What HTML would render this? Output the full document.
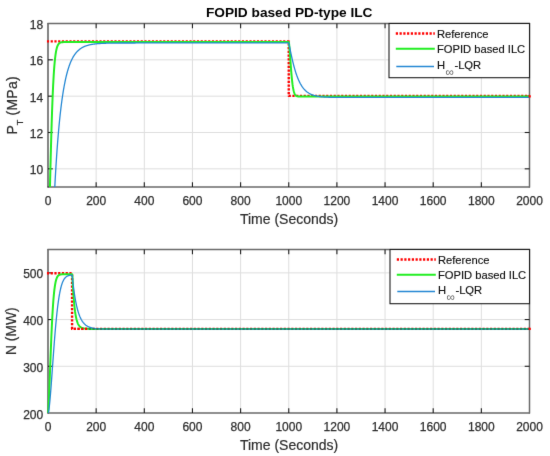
<!DOCTYPE html>
<html><head><meta charset="utf-8"><style>
html,body{margin:0;padding:0;background:#fff;}
body{width:550px;height:456px;overflow:hidden;}
svg{display:block;}
#wrap{width:550px;height:456px;}
text{font-family:"Liberation Sans",sans-serif;fill:#2e2e2e;}
.tk{font-size:12px;stroke:#2e2e2e;stroke-width:0.25px;}
.lb{font-size:14px;stroke:#2e2e2e;stroke-width:0.2px;}
.yl{font-size:13.8px;stroke:#2e2e2e;stroke-width:0.2px;}
.tt{font-size:13.7px;font-weight:bold;fill:#000;}
.lg{font-size:11.2px;fill:#111;stroke:#111;stroke-width:0.15px;}
</style></head><body>
<div id="wrap">
<svg width="550" height="456" viewBox="0 0 550 456">
<defs>
<filter id="soft" x="0" y="0" width="550" height="456" filterUnits="userSpaceOnUse" color-interpolation-filters="sRGB"><feConvolveMatrix order="3" kernelMatrix="0.00524 0.06192 0.00524 0.06192 0.73137 0.06192 0.00524 0.06192 0.00524" divisor="1" edgeMode="duplicate" preserveAlpha="true"/></filter>
<clipPath id="c1"><rect x="46.4" y="23.5" width="484.7" height="163.5"/></clipPath>
<clipPath id="c2"><rect x="46.4" y="249.5" width="484.7" height="163.5"/></clipPath>
</defs>
<rect width="550" height="456" fill="#fff"/>
<g>
<text x="289.2" y="16.6" class="tt" text-anchor="middle">FOPID based PD-type ILC</text>
<line x1="96.15" y1="23.5" x2="96.15" y2="187.0" stroke="#dedede" stroke-width="1"/>
<line x1="144.30" y1="23.5" x2="144.30" y2="187.0" stroke="#dedede" stroke-width="1"/>
<line x1="192.45" y1="23.5" x2="192.45" y2="187.0" stroke="#dedede" stroke-width="1"/>
<line x1="240.60" y1="23.5" x2="240.60" y2="187.0" stroke="#dedede" stroke-width="1"/>
<line x1="288.75" y1="23.5" x2="288.75" y2="187.0" stroke="#dedede" stroke-width="1"/>
<line x1="336.90" y1="23.5" x2="336.90" y2="187.0" stroke="#dedede" stroke-width="1"/>
<line x1="385.05" y1="23.5" x2="385.05" y2="187.0" stroke="#dedede" stroke-width="1"/>
<line x1="433.20" y1="23.5" x2="433.20" y2="187.0" stroke="#dedede" stroke-width="1"/>
<line x1="481.35" y1="23.5" x2="481.35" y2="187.0" stroke="#dedede" stroke-width="1"/>
<line x1="48.0" y1="168.83" x2="529.5" y2="168.83" stroke="#dedede" stroke-width="1"/>
<line x1="48.0" y1="132.50" x2="529.5" y2="132.50" stroke="#dedede" stroke-width="1"/>
<line x1="48.0" y1="96.17" x2="529.5" y2="96.17" stroke="#dedede" stroke-width="1"/>
<line x1="48.0" y1="59.83" x2="529.5" y2="59.83" stroke="#dedede" stroke-width="1"/>
<line x1="48.0" y1="23.0" x2="48.0" y2="187.5" stroke="#1e1e1e" stroke-width="1.1"/>
<line x1="47.5" y1="187.0" x2="530.0" y2="187.0" stroke="#1e1e1e" stroke-width="1.1"/>
<line x1="47.5" y1="23.5" x2="530.0" y2="23.5" stroke="#6a6a6a" stroke-width="1.5"/>
<line x1="529.5" y1="23.0" x2="529.5" y2="187.5" stroke="#6a6a6a" stroke-width="1.5"/>
<line x1="96.15" y1="187.0" x2="96.15" y2="182.2" stroke="#1e1e1e" stroke-width="1.1"/>
<line x1="96.15" y1="23.5" x2="96.15" y2="28.3" stroke="#1e1e1e" stroke-width="1.1"/>
<line x1="144.30" y1="187.0" x2="144.30" y2="182.2" stroke="#1e1e1e" stroke-width="1.1"/>
<line x1="144.30" y1="23.5" x2="144.30" y2="28.3" stroke="#1e1e1e" stroke-width="1.1"/>
<line x1="192.45" y1="187.0" x2="192.45" y2="182.2" stroke="#1e1e1e" stroke-width="1.1"/>
<line x1="192.45" y1="23.5" x2="192.45" y2="28.3" stroke="#1e1e1e" stroke-width="1.1"/>
<line x1="240.60" y1="187.0" x2="240.60" y2="182.2" stroke="#1e1e1e" stroke-width="1.1"/>
<line x1="240.60" y1="23.5" x2="240.60" y2="28.3" stroke="#1e1e1e" stroke-width="1.1"/>
<line x1="288.75" y1="187.0" x2="288.75" y2="182.2" stroke="#1e1e1e" stroke-width="1.1"/>
<line x1="288.75" y1="23.5" x2="288.75" y2="28.3" stroke="#1e1e1e" stroke-width="1.1"/>
<line x1="336.90" y1="187.0" x2="336.90" y2="182.2" stroke="#1e1e1e" stroke-width="1.1"/>
<line x1="336.90" y1="23.5" x2="336.90" y2="28.3" stroke="#1e1e1e" stroke-width="1.1"/>
<line x1="385.05" y1="187.0" x2="385.05" y2="182.2" stroke="#1e1e1e" stroke-width="1.1"/>
<line x1="385.05" y1="23.5" x2="385.05" y2="28.3" stroke="#1e1e1e" stroke-width="1.1"/>
<line x1="433.20" y1="187.0" x2="433.20" y2="182.2" stroke="#1e1e1e" stroke-width="1.1"/>
<line x1="433.20" y1="23.5" x2="433.20" y2="28.3" stroke="#1e1e1e" stroke-width="1.1"/>
<line x1="481.35" y1="187.0" x2="481.35" y2="182.2" stroke="#1e1e1e" stroke-width="1.1"/>
<line x1="481.35" y1="23.5" x2="481.35" y2="28.3" stroke="#1e1e1e" stroke-width="1.1"/>
<line x1="48.0" y1="168.83" x2="52.8" y2="168.83" stroke="#1e1e1e" stroke-width="1.1"/>
<line x1="529.5" y1="168.83" x2="524.7" y2="168.83" stroke="#1e1e1e" stroke-width="1.1"/>
<line x1="48.0" y1="132.50" x2="52.8" y2="132.50" stroke="#1e1e1e" stroke-width="1.1"/>
<line x1="529.5" y1="132.50" x2="524.7" y2="132.50" stroke="#1e1e1e" stroke-width="1.1"/>
<line x1="48.0" y1="96.17" x2="52.8" y2="96.17" stroke="#1e1e1e" stroke-width="1.1"/>
<line x1="529.5" y1="96.17" x2="524.7" y2="96.17" stroke="#1e1e1e" stroke-width="1.1"/>
<line x1="48.0" y1="59.83" x2="52.8" y2="59.83" stroke="#1e1e1e" stroke-width="1.1"/>
<line x1="529.5" y1="59.83" x2="524.7" y2="59.83" stroke="#1e1e1e" stroke-width="1.1"/>
<g clip-path="url(#c1)" fill="none" stroke-linejoin="round"><path d="M46.9,41.37 L288.75,41.37 L288.75,95.87 L529.5,95.87" stroke="#ff0000" stroke-width="2.4" stroke-dasharray="2.2 1.55"/><path d="M48.00,249.71 L48.05,249.44 L48.10,248.94 L48.12,248.62 L48.15,248.28 L48.17,247.90 L48.19,247.49 L48.22,247.06 L48.24,246.60 L48.27,246.12 L48.29,245.62 L48.31,245.10 L48.34,244.55 L48.36,243.99 L48.39,243.41 L48.41,242.81 L48.44,242.20 L48.46,241.57 L48.48,240.92 L48.51,240.26 L48.53,239.58 L48.56,238.90 L48.58,238.19 L48.60,237.48 L48.63,236.75 L48.65,236.01 L48.68,235.26 L48.70,234.50 L48.73,233.73 L48.75,232.95 L48.77,232.16 L48.80,231.35 L48.82,230.54 L48.85,229.72 L48.87,228.89 L48.90,228.06 L48.92,227.21 L48.94,226.36 L48.97,225.50 L48.99,224.63 L49.02,223.76 L49.04,222.88 L49.06,221.99 L49.09,221.10 L49.11,220.20 L49.14,219.30 L49.16,218.39 L49.19,217.47 L49.21,216.55 L49.23,215.63 L49.26,214.70 L49.28,213.77 L49.31,212.83 L49.33,211.89 L49.35,210.94 L49.38,209.99 L49.40,209.04 L49.43,208.09 L49.45,207.13 L49.48,206.17 L49.50,205.21 L49.52,204.24 L49.55,203.27 L49.57,202.31 L49.60,201.33 L49.62,200.36 L49.65,199.39 L49.67,198.41 L49.69,197.43 L49.72,196.46 L49.74,195.48 L49.77,194.50 L49.79,193.52 L49.81,192.53 L49.84,191.55 L49.86,190.57 L49.89,189.59 L49.91,188.61 L49.94,187.63 L49.96,186.64 L49.98,185.66 L50.01,184.68 L50.03,183.70 L50.06,182.72 L50.08,181.74 L50.11,180.77 L50.13,179.79 L50.15,178.82 L50.18,177.84 L50.20,176.87 L50.23,175.90 L50.25,174.93 L50.27,173.96 L50.30,172.99 L50.32,172.03 L50.35,171.07 L50.37,170.11 L50.40,169.15 L50.42,168.19 L50.44,167.24 L50.47,166.29 L50.49,165.34 L50.52,164.39 L50.54,163.45 L50.56,162.51 L50.59,161.57 L50.61,160.63 L50.64,159.70 L50.66,158.77 L50.69,157.84 L50.71,156.92 L50.73,156.00 L50.76,155.08 L50.78,154.17 L50.81,153.26 L50.83,152.35 L50.86,151.44 L50.88,150.54 L50.90,149.65 L50.93,148.75 L50.95,147.86 L50.98,146.98 L51.00,146.09 L51.02,145.21 L51.05,144.34 L51.07,143.47 L51.10,142.60 L51.12,141.74 L51.15,140.88 L51.17,140.02 L51.19,139.17 L51.22,138.33 L51.24,137.48 L51.27,136.64 L51.29,135.81 L51.31,134.98 L51.34,134.15 L51.36,133.33 L51.39,132.51 L51.41,131.70 L51.44,130.89 L51.46,130.09 L51.48,129.29 L51.51,128.49 L51.53,127.70 L51.56,126.91 L51.58,126.13 L51.61,125.35 L51.63,124.58 L51.65,123.81 L51.68,123.05 L51.70,122.29 L51.73,121.53 L51.75,120.78 L51.77,120.04 L51.80,119.29 L51.82,118.56 L51.85,117.83 L51.87,117.10 L51.90,116.38 L51.92,115.66 L51.94,114.95 L51.97,114.24 L51.99,113.53 L52.02,112.83 L52.04,112.14 L52.06,111.45 L52.09,110.76 L52.11,110.08 L52.14,109.41 L52.16,108.74 L52.19,108.07 L52.21,107.41 L52.23,106.75 L52.26,106.10 L52.28,105.45 L52.31,104.81 L52.33,104.17 L52.36,103.54 L52.38,102.91 L52.40,102.28 L52.43,101.66 L52.45,101.05 L52.48,100.44 L52.50,99.83 L52.52,99.23 L52.55,98.63 L52.57,98.04 L52.60,97.45 L52.62,96.87 L52.65,96.29 L52.67,95.72 L52.69,95.15 L52.72,94.59 L52.74,94.03 L52.77,93.47 L52.79,92.92 L52.81,92.37 L53.11,86.06 L53.41,80.38 L53.70,75.30 L54.00,70.79 L54.29,66.79 L54.59,63.27 L54.88,60.19 L55.18,57.50 L55.47,55.16 L55.77,53.14 L56.06,51.40 L56.36,49.91 L56.65,48.64 L56.95,47.55 L57.24,46.63 L57.54,45.85 L57.83,45.20 L58.13,44.65 L58.43,44.19 L58.72,43.81 L59.02,43.49 L59.31,43.23 L59.61,43.01 L59.90,42.83 L60.20,42.69 L60.49,42.57 L60.79,42.47 L61.08,42.39 L61.38,42.32 L61.67,42.27 L61.97,42.23 L62.26,42.20 L62.56,42.17 L62.85,42.15 L63.15,42.13 L63.45,42.12 L63.74,42.11 L64.04,42.10 L64.33,42.09 L64.63,42.09 L65.22,42.08 L65.81,42.07 L66.40,42.07 L66.99,42.07 L67.58,42.07 L68.17,42.07 L68.76,42.07 L69.35,42.07 L69.94,42.07 L70.53,42.07 L71.12,42.07 L71.71,42.07 L72.30,42.07 L72.89,42.07 L73.49,42.07 L74.08,42.07 L74.67,42.07 L75.26,42.07 L75.85,42.07 L76.44,42.07 L77.03,42.07 L77.62,42.07 L78.21,42.07 L78.80,42.07 L79.39,42.07 L79.98,42.07 L80.57,42.07 L81.16,42.07 L81.75,42.07 L82.34,42.07 L82.93,42.07 L83.52,42.07 L84.12,42.07 L84.71,42.07 L85.30,42.07 L85.89,42.07 L86.48,42.07 L87.07,42.07 L87.66,42.07 L88.25,42.07 L88.84,42.07 L89.43,42.07 L90.02,42.07 L90.61,42.07 L91.20,42.07 L91.79,42.07 L92.38,42.07 L92.97,42.07 L93.56,42.07 L94.16,42.07 L94.75,42.07 L95.34,42.07 L95.93,42.07 L96.52,42.07 L97.11,42.07 L97.70,42.07 L98.29,42.07 L98.88,42.07 L99.47,42.07 L100.06,42.07 L100.65,42.07 L101.24,42.07 L101.83,42.07 L102.42,42.07 L103.01,42.07 L103.60,42.07 L104.20,42.07 L104.79,42.07 L105.38,42.07 L105.97,42.07 L106.56,42.07 L107.15,42.07 L107.74,42.07 L108.33,42.07 L108.92,42.07 L109.51,42.07 L110.10,42.07 L110.69,42.07 L111.28,42.07 L111.87,42.07 L112.46,42.07 L113.05,42.07 L113.64,42.07 L114.23,42.07 L114.83,42.07 L115.42,42.07 L116.01,42.07 L116.60,42.07 L117.19,42.07 L117.78,42.07 L118.37,42.07 L118.96,42.07 L119.55,42.07 L120.14,42.07 L120.73,42.07 L121.32,42.07 L121.91,42.07 L122.50,42.07 L123.09,42.07 L123.68,42.07 L124.27,42.07 L124.87,42.07 L125.46,42.07 L126.05,42.07 L126.64,42.07 L127.23,42.07 L127.82,42.07 L128.41,42.07 L129.00,42.07 L129.59,42.07 L130.18,42.07 L130.77,42.07 L131.36,42.07 L131.95,42.07 L132.54,42.07 L133.13,42.07 L133.72,42.07 L134.31,42.07 L134.91,42.07 L135.50,42.07 L136.09,42.07 L136.68,42.07 L137.27,42.07 L137.86,42.07 L138.45,42.07 L139.04,42.07 L139.63,42.07 L140.22,42.07 L140.81,42.07 L141.40,42.07 L141.99,42.07 L142.58,42.07 L143.17,42.07 L143.76,42.07 L144.35,42.07 L144.94,42.07 L145.54,42.07 L146.13,42.07 L146.72,42.07 L147.31,42.07 L147.90,42.07 L148.49,42.07 L149.08,42.07 L149.67,42.07 L150.26,42.07 L150.85,42.07 L151.44,42.07 L152.03,42.07 L152.62,42.07 L153.21,42.07 L153.80,42.07 L154.39,42.07 L154.98,42.07 L155.58,42.07 L156.17,42.07 L156.76,42.07 L157.35,42.07 L157.94,42.07 L158.53,42.07 L159.12,42.07 L159.71,42.07 L160.30,42.07 L160.89,42.07 L161.48,42.07 L162.07,42.07 L162.66,42.07 L163.25,42.07 L163.84,42.07 L164.43,42.07 L165.02,42.07 L165.61,42.07 L166.21,42.07 L166.80,42.07 L167.39,42.07 L167.98,42.07 L168.57,42.07 L169.16,42.07 L169.75,42.07 L170.34,42.07 L170.93,42.07 L171.52,42.07 L172.11,42.07 L172.70,42.07 L173.29,42.07 L173.88,42.07 L174.47,42.07 L175.06,42.07 L175.65,42.07 L176.25,42.07 L176.84,42.07 L177.43,42.07 L178.02,42.07 L178.61,42.07 L179.20,42.07 L179.79,42.07 L180.38,42.07 L180.97,42.07 L181.56,42.07 L182.15,42.07 L182.74,42.07 L183.33,42.07 L183.92,42.07 L184.51,42.07 L185.10,42.07 L185.69,42.07 L186.29,42.07 L186.88,42.07 L187.47,42.07 L188.06,42.07 L188.65,42.07 L189.24,42.07 L189.83,42.07 L190.42,42.07 L191.01,42.07 L191.60,42.07 L192.19,42.07 L192.78,42.07 L193.37,42.07 L193.96,42.07 L194.55,42.07 L195.14,42.07 L195.73,42.07 L196.32,42.07 L196.92,42.07 L197.51,42.07 L198.10,42.07 L198.69,42.07 L199.28,42.07 L199.87,42.07 L200.46,42.07 L201.05,42.07 L201.64,42.07 L202.23,42.07 L202.82,42.07 L203.41,42.07 L204.00,42.07 L204.59,42.07 L205.18,42.07 L205.77,42.07 L206.36,42.07 L206.96,42.07 L207.55,42.07 L208.14,42.07 L208.73,42.07 L209.32,42.07 L209.91,42.07 L210.50,42.07 L211.09,42.07 L211.68,42.07 L212.27,42.07 L212.86,42.07 L213.45,42.07 L214.04,42.07 L214.63,42.07 L215.22,42.07 L215.81,42.07 L216.40,42.07 L217.00,42.07 L217.59,42.07 L218.18,42.07 L218.77,42.07 L219.36,42.07 L219.95,42.07 L220.54,42.07 L221.13,42.07 L221.72,42.07 L222.31,42.07 L222.90,42.07 L223.49,42.07 L224.08,42.07 L224.67,42.07 L225.26,42.07 L225.85,42.07 L226.44,42.07 L227.03,42.07 L227.63,42.07 L228.22,42.07 L228.81,42.07 L229.40,42.07 L229.99,42.07 L230.58,42.07 L231.17,42.07 L231.76,42.07 L232.35,42.07 L232.94,42.07 L233.53,42.07 L234.12,42.07 L234.71,42.07 L235.30,42.07 L235.89,42.07 L236.48,42.07 L237.07,42.07 L237.67,42.07 L238.26,42.07 L238.85,42.07 L239.44,42.07 L240.03,42.07 L240.62,42.07 L241.21,42.07 L241.80,42.07 L242.39,42.07 L242.98,42.07 L243.57,42.07 L244.16,42.07 L244.75,42.07 L245.34,42.07 L245.93,42.07 L246.52,42.07 L247.11,42.07 L247.70,42.07 L248.30,42.07 L248.89,42.07 L249.48,42.07 L250.07,42.07 L250.66,42.07 L251.25,42.07 L251.84,42.07 L252.43,42.07 L253.02,42.07 L253.61,42.07 L254.20,42.07 L254.79,42.07 L255.38,42.07 L255.97,42.07 L256.56,42.07 L257.15,42.07 L257.74,42.07 L258.34,42.07 L258.93,42.07 L259.52,42.07 L260.11,42.07 L260.70,42.07 L261.29,42.07 L261.88,42.07 L262.47,42.07 L263.06,42.07 L263.65,42.07 L264.24,42.07 L264.83,42.07 L265.42,42.07 L266.01,42.07 L266.60,42.07 L267.19,42.07 L267.78,42.07 L268.38,42.07 L268.97,42.07 L269.56,42.07 L270.15,42.07 L270.74,42.07 L271.33,42.07 L271.92,42.07 L272.51,42.07 L273.10,42.07 L273.69,42.07 L274.28,42.07 L274.87,42.07 L275.46,42.07 L276.05,42.07 L276.64,42.07 L277.23,42.07 L277.82,42.07 L278.41,42.07 L279.01,42.07 L279.60,42.07 L280.19,42.07 L280.78,42.07 L281.37,42.07 L281.96,42.07 L282.55,42.07 L283.14,42.07 L283.73,42.07 L284.32,42.07 L284.91,42.07 L285.50,42.07 L286.09,42.07 L286.68,42.07 L287.27,42.07 L287.86,42.07 L288.45,42.07 L288.80,42.16 L288.89,42.57 L288.94,42.85 L288.99,43.17 L289.04,43.53 L289.09,43.92 L289.14,44.34 L289.18,44.79 L289.23,45.26 L289.28,45.75 L289.33,46.26 L289.38,46.80 L289.43,47.35 L289.47,47.92 L289.52,48.50 L289.57,49.09 L289.62,49.70 L289.67,50.32 L289.72,50.95 L289.76,51.59 L289.81,52.23 L289.86,52.88 L289.91,53.54 L289.96,54.21 L290.01,54.88 L290.05,55.55 L290.10,56.22 L290.15,56.90 L290.20,57.58 L290.25,58.26 L290.30,58.94 L290.34,59.62 L290.39,60.30 L290.44,60.97 L290.49,61.65 L290.54,62.32 L290.59,62.99 L290.63,63.66 L290.68,64.32 L290.73,64.98 L290.78,65.63 L290.83,66.28 L290.88,66.92 L290.92,67.56 L290.97,68.19 L291.02,68.82 L291.07,69.43 L291.12,70.05 L291.17,70.65 L291.21,71.25 L291.26,71.84 L291.31,72.42 L291.36,73.00 L291.41,73.56 L291.46,74.12 L291.50,74.67 L291.55,75.21 L291.60,75.75 L291.65,76.27 L291.70,76.79 L291.75,77.30 L291.79,77.80 L291.84,78.29 L291.89,78.77 L291.94,79.25 L291.99,79.71 L292.04,80.17 L292.08,80.62 L292.13,81.06 L292.18,81.49 L292.23,81.91 L292.28,82.32 L292.33,82.72 L292.37,83.12 L292.42,83.51 L292.47,83.89 L292.52,84.26 L292.57,84.62 L292.61,84.97 L292.66,85.32 L292.71,85.66 L292.76,85.99 L292.81,86.31 L292.86,86.62 L292.90,86.93 L292.95,87.23 L293.00,87.52 L293.05,87.81 L293.10,88.08 L293.15,88.35 L293.19,88.62 L293.24,88.87 L293.34,89.37 L293.44,89.83 L293.53,90.27 L293.63,90.69 L293.73,91.08 L293.82,91.45 L293.92,91.80 L294.02,92.13 L294.11,92.44 L294.21,92.73 L294.31,93.00 L294.40,93.26 L294.50,93.50 L294.60,93.72 L294.69,93.93 L294.84,94.22 L294.98,94.48 L295.13,94.71 L295.27,94.92 L295.42,95.11 L295.56,95.28 L295.76,95.48 L295.95,95.65 L296.14,95.80 L296.33,95.92 L296.58,96.05 L296.82,96.15 L297.06,96.24 L297.30,96.31 L297.59,96.37 L297.88,96.42 L298.17,96.46 L298.46,96.49 L298.75,96.51 L299.04,96.52 L299.33,96.54 L299.67,96.54 L300.01,96.55 L300.34,96.56 L300.68,96.56 L301.02,96.56 L301.36,96.56 L301.70,96.56 L302.04,96.57 L302.37,96.57 L302.71,96.57 L303.05,96.57 L305.48,96.57 L307.77,96.57 L310.05,96.57 L312.34,96.57 L314.62,96.57 L316.91,96.57 L319.20,96.57 L321.48,96.57 L323.77,96.57 L326.05,96.57 L328.34,96.57 L330.63,96.57 L332.91,96.57 L335.20,96.57 L337.48,96.57 L339.77,96.57 L342.06,96.57 L344.34,96.57 L346.63,96.57 L348.91,96.57 L351.20,96.57 L353.49,96.57 L355.77,96.57 L358.06,96.57 L360.34,96.57 L362.63,96.57 L364.91,96.57 L367.20,96.57 L369.49,96.57 L371.77,96.57 L374.06,96.57 L376.34,96.57 L378.63,96.57 L380.92,96.57 L383.20,96.57 L385.49,96.57 L387.77,96.57 L390.06,96.57 L392.35,96.57 L394.63,96.57 L396.92,96.57 L399.20,96.57 L401.49,96.57 L403.77,96.57 L406.06,96.57 L408.35,96.57 L410.63,96.57 L412.92,96.57 L415.20,96.57 L417.49,96.57 L419.78,96.57 L422.06,96.57 L424.35,96.57 L426.63,96.57 L428.92,96.57 L431.21,96.57 L433.49,96.57 L435.78,96.57 L438.06,96.57 L440.35,96.57 L442.64,96.57 L444.92,96.57 L447.21,96.57 L449.49,96.57 L451.78,96.57 L454.06,96.57 L456.35,96.57 L458.64,96.57 L460.92,96.57 L463.21,96.57 L465.49,96.57 L467.78,96.57 L470.07,96.57 L472.35,96.57 L474.64,96.57 L476.92,96.57 L479.21,96.57 L481.50,96.57 L483.78,96.57 L486.07,96.57 L488.35,96.57 L490.64,96.57 L492.93,96.57 L495.21,96.57 L497.50,96.57 L499.78,96.57 L502.07,96.57 L504.36,96.57 L506.64,96.57 L508.93,96.57 L511.21,96.57 L513.50,96.57 L515.78,96.57 L518.07,96.57 L520.36,96.57 L522.64,96.57 L524.93,96.57 L527.21,96.57 L529.50,96.57" stroke="#22ee22" stroke-width="2"/><path d="M48.00,409.54 L48.07,405.05 L48.15,400.89 L48.22,396.88 L48.29,392.97 L48.36,389.15 L48.44,385.41 L48.51,381.73 L48.58,378.12 L48.65,374.57 L48.73,371.07 L48.80,367.63 L48.87,364.23 L48.94,360.89 L49.02,357.59 L49.09,354.34 L49.16,351.13 L49.23,347.96 L49.31,344.83 L49.38,341.75 L49.45,338.70 L49.52,335.69 L49.60,332.72 L49.67,329.78 L49.74,326.88 L49.81,324.01 L49.89,321.18 L49.96,318.38 L50.03,315.62 L50.11,312.88 L50.18,310.18 L50.25,307.51 L50.32,304.87 L50.40,302.26 L50.47,299.68 L50.54,297.13 L50.61,294.61 L50.69,292.12 L50.76,289.65 L50.83,287.21 L50.90,284.80 L50.98,282.41 L51.05,280.06 L51.12,277.72 L51.19,275.41 L51.27,273.13 L51.34,270.87 L51.41,268.64 L51.48,266.43 L51.56,264.24 L51.63,262.08 L51.70,259.94 L51.77,257.83 L51.85,255.73 L51.92,253.66 L51.99,251.61 L52.06,249.58 L52.14,247.57 L52.21,245.59 L52.28,243.62 L52.36,241.68 L52.43,239.75 L52.50,237.85 L52.57,235.97 L52.65,234.10 L52.72,232.26 L52.79,230.43 L52.86,228.62 L52.94,226.83 L53.01,225.06 L53.08,223.31 L53.15,221.58 L53.23,219.86 L53.30,218.16 L53.37,216.48 L53.44,214.82 L53.52,213.17 L53.59,211.54 L53.66,209.93 L53.73,208.33 L53.81,206.75 L53.88,205.18 L53.95,203.63 L54.02,202.10 L54.10,200.58 L54.17,199.08 L54.24,197.59 L54.32,196.12 L54.39,194.66 L54.46,193.22 L54.53,191.79 L54.61,190.37 L54.68,188.97 L54.75,187.58 L54.82,186.21 L54.90,184.85 L54.97,183.51 L55.04,182.18 L55.11,180.86 L55.19,179.55 L55.26,178.26 L55.33,176.98 L55.40,175.71 L55.48,174.46 L55.55,173.22 L55.62,171.99 L55.69,170.77 L55.77,169.56 L55.84,168.37 L55.91,167.19 L55.98,166.02 L56.06,164.86 L56.13,163.71 L56.20,162.57 L56.28,161.45 L56.35,160.33 L56.42,159.23 L56.49,158.14 L56.57,157.06 L56.64,155.99 L56.71,154.92 L56.78,153.87 L56.86,152.83 L56.93,151.80 L57.00,150.78 L57.07,149.77 L57.15,148.77 L57.22,147.78 L57.29,146.80 L57.36,145.83 L57.44,144.87 L57.51,143.92 L57.58,142.97 L57.65,142.04 L57.73,141.12 L57.80,140.20 L57.87,139.29 L57.94,138.39 L58.02,137.50 L58.09,136.62 L58.16,135.75 L58.23,134.89 L58.31,134.03 L58.38,133.18 L58.45,132.34 L58.53,131.51 L58.60,130.69 L58.67,129.87 L58.74,129.06 L58.82,128.26 L58.89,127.47 L58.96,126.69 L59.03,125.91 L59.11,125.14 L59.18,124.38 L59.25,123.62 L59.32,122.88 L59.40,122.13 L59.47,121.40 L59.54,120.67 L59.61,119.96 L59.69,119.24 L59.76,118.54 L59.83,117.84 L59.90,117.14 L59.98,116.46 L60.05,115.78 L60.12,115.11 L60.19,114.44 L60.27,113.78 L60.34,113.13 L60.41,112.48 L60.49,111.84 L60.56,111.20 L60.63,110.57 L60.70,109.95 L60.78,109.33 L60.85,108.72 L60.92,108.11 L60.99,107.51 L61.07,106.92 L61.14,106.33 L61.21,105.75 L61.28,105.17 L61.36,104.60 L61.43,104.03 L61.50,103.47 L61.57,102.91 L61.65,102.36 L61.72,101.81 L61.79,101.27 L61.86,100.74 L61.94,100.21 L62.01,99.68 L62.08,99.16 L62.15,98.65 L62.23,98.13 L62.30,97.63 L62.37,97.13 L62.45,96.63 L62.73,94.74 L63.01,92.91 L63.29,91.15 L63.58,89.46 L63.86,87.82 L64.14,86.25 L64.43,84.73 L64.71,83.26 L64.99,81.85 L65.28,80.49 L65.56,79.18 L65.84,77.91 L66.13,76.69 L66.41,75.51 L66.69,74.37 L66.98,73.28 L67.26,72.22 L67.54,71.20 L67.83,70.22 L68.11,69.27 L68.39,68.36 L68.68,67.48 L68.96,66.63 L69.24,65.81 L69.53,65.01 L69.81,64.25 L70.09,63.51 L70.38,62.80 L70.66,62.12 L70.94,61.45 L71.23,60.81 L71.51,60.20 L71.79,59.60 L72.08,59.03 L72.36,58.48 L72.64,57.94 L72.92,57.43 L73.21,56.93 L73.49,56.45 L73.77,55.98 L74.06,55.54 L74.34,55.10 L74.62,54.69 L74.91,54.29 L75.19,53.90 L75.47,53.52 L75.76,53.16 L76.04,52.81 L76.32,52.47 L76.61,52.15 L76.89,51.83 L77.17,51.53 L77.46,51.24 L77.74,50.96 L78.02,50.68 L78.31,50.42 L78.59,50.17 L78.87,49.92 L79.16,49.68 L79.44,49.45 L79.72,49.23 L80.01,49.02 L80.29,48.81 L80.57,48.61 L80.86,48.42 L81.14,48.24 L81.42,48.06 L81.70,47.89 L81.99,47.72 L82.27,47.56 L82.55,47.40 L82.84,47.25 L83.12,47.11 L83.40,46.97 L83.69,46.83 L83.97,46.70 L84.25,46.57 L84.54,46.45 L84.82,46.33 L85.10,46.22 L85.39,46.11 L85.67,46.00 L85.95,45.90 L86.24,45.80 L86.52,45.71 L86.80,45.61 L87.09,45.52 L87.37,45.44 L87.65,45.35 L87.94,45.27 L88.22,45.20 L88.50,45.12 L88.79,45.05 L89.07,44.98 L89.35,44.91 L89.64,44.84 L89.92,44.78 L90.20,44.72 L90.49,44.66 L90.77,44.60 L91.05,44.55 L91.34,44.50 L91.62,44.45 L91.90,44.40 L92.18,44.35 L92.47,44.30 L92.75,44.26 L93.03,44.21 L93.32,44.17 L93.60,44.13 L93.88,44.09 L94.17,44.05 L94.45,44.02 L94.73,43.98 L95.02,43.95 L95.30,43.92 L95.58,43.88 L95.87,43.85 L96.15,43.82 L96.43,43.80 L96.72,43.77 L97.00,43.74 L97.28,43.72 L97.57,43.69 L97.85,43.67 L98.13,43.64 L98.42,43.62 L98.70,43.60 L98.98,43.58 L99.27,43.56 L99.55,43.54 L99.83,43.52 L100.12,43.50 L100.40,43.48 L100.68,43.46 L101.25,43.43 L101.81,43.40 L102.38,43.37 L102.95,43.35 L103.51,43.32 L104.08,43.30 L104.65,43.28 L105.21,43.26 L105.78,43.24 L106.35,43.22 L106.91,43.20 L107.48,43.19 L108.05,43.17 L108.61,43.16 L109.18,43.15 L109.75,43.14 L110.31,43.13 L110.88,43.11 L111.44,43.11 L112.01,43.10 L112.58,43.09 L113.14,43.08 L113.71,43.07 L114.28,43.07 L114.84,43.06 L115.41,43.05 L115.98,43.05 L116.54,43.04 L117.11,43.04 L117.68,43.03 L118.24,43.03 L118.81,43.02 L119.38,43.02 L119.94,43.02 L120.51,43.01 L121.07,43.01 L121.64,43.01 L122.21,43.01 L122.77,43.00 L123.34,43.00 L123.91,43.00 L124.47,43.00 L125.04,42.99 L125.61,42.99 L126.17,42.99 L126.74,42.99 L127.31,42.99 L127.87,42.99 L128.44,42.99 L129.01,42.98 L129.57,42.98 L130.14,42.98 L130.70,42.98 L131.27,42.98 L131.84,42.98 L132.40,42.98 L132.97,42.98 L133.54,42.98 L134.10,42.98 L134.67,42.98 L135.24,42.98 L135.80,42.97 L136.37,42.97 L136.94,42.97 L137.50,42.97 L138.07,42.97 L138.64,42.97 L139.20,42.97 L139.77,42.97 L140.33,42.97 L140.90,42.97 L141.47,42.97 L142.03,42.97 L142.60,42.97 L143.17,42.97 L143.73,42.97 L144.30,42.97 L144.87,42.97 L145.43,42.97 L146.00,42.97 L146.57,42.97 L147.13,42.97 L147.70,42.97 L148.27,42.97 L148.83,42.97 L149.40,42.97 L149.96,42.97 L150.53,42.97 L151.10,42.97 L151.66,42.97 L152.23,42.97 L152.80,42.97 L153.36,42.97 L153.93,42.97 L154.50,42.97 L155.06,42.97 L155.63,42.97 L156.20,42.97 L156.76,42.97 L157.33,42.97 L157.90,42.97 L158.46,42.97 L159.03,42.97 L159.59,42.97 L160.16,42.97 L160.73,42.97 L161.29,42.97 L161.86,42.97 L162.43,42.97 L162.99,42.97 L163.56,42.97 L164.13,42.97 L164.69,42.97 L165.26,42.97 L165.83,42.97 L166.39,42.97 L166.96,42.97 L167.53,42.97 L168.09,42.97 L168.66,42.97 L169.22,42.97 L169.79,42.97 L170.36,42.97 L170.92,42.97 L171.49,42.97 L172.06,42.97 L172.62,42.97 L173.19,42.97 L173.76,42.97 L174.32,42.97 L174.89,42.97 L175.46,42.97 L176.02,42.97 L176.59,42.97 L177.16,42.97 L177.72,42.97 L178.29,42.97 L178.85,42.97 L179.42,42.97 L179.99,42.97 L180.55,42.97 L181.12,42.97 L181.69,42.97 L182.25,42.97 L182.82,42.97 L183.39,42.97 L183.95,42.97 L184.52,42.97 L185.09,42.97 L185.65,42.97 L186.22,42.97 L186.79,42.97 L187.35,42.97 L187.92,42.97 L188.48,42.97 L189.05,42.97 L189.62,42.97 L190.18,42.97 L190.75,42.97 L191.32,42.97 L191.88,42.97 L192.45,42.97 L193.02,42.97 L193.58,42.97 L194.15,42.97 L194.72,42.97 L195.28,42.97 L195.85,42.97 L196.42,42.97 L196.98,42.97 L197.55,42.97 L198.11,42.97 L198.68,42.97 L199.25,42.97 L199.81,42.97 L200.38,42.97 L200.95,42.97 L201.51,42.97 L202.08,42.97 L202.65,42.97 L203.21,42.97 L203.78,42.97 L204.35,42.97 L204.91,42.97 L205.48,42.97 L206.05,42.97 L206.61,42.97 L207.18,42.97 L207.74,42.97 L208.31,42.97 L208.88,42.97 L209.44,42.97 L210.01,42.97 L210.58,42.97 L211.14,42.97 L211.71,42.97 L212.28,42.97 L212.84,42.97 L213.41,42.97 L213.98,42.97 L214.54,42.97 L215.11,42.97 L215.68,42.97 L216.24,42.97 L216.81,42.97 L217.37,42.97 L217.94,42.97 L218.51,42.97 L219.07,42.97 L219.64,42.97 L220.21,42.97 L220.77,42.97 L221.34,42.97 L221.91,42.97 L222.47,42.97 L223.04,42.97 L223.61,42.97 L224.17,42.97 L224.74,42.97 L225.31,42.97 L225.87,42.97 L226.44,42.97 L227.00,42.97 L227.57,42.97 L228.14,42.97 L228.70,42.97 L229.27,42.97 L229.84,42.97 L230.40,42.97 L230.97,42.97 L231.54,42.97 L232.10,42.97 L232.67,42.97 L233.24,42.97 L233.80,42.97 L234.37,42.97 L234.94,42.97 L235.50,42.97 L236.07,42.97 L236.63,42.97 L237.20,42.97 L237.77,42.97 L238.33,42.97 L238.90,42.97 L239.47,42.97 L240.03,42.97 L240.60,42.97 L241.17,42.97 L241.73,42.97 L242.30,42.97 L242.87,42.97 L243.43,42.97 L244.00,42.97 L244.57,42.97 L245.13,42.97 L245.70,42.97 L246.26,42.97 L246.83,42.97 L247.40,42.97 L247.96,42.97 L248.53,42.97 L249.10,42.97 L249.66,42.97 L250.23,42.97 L250.80,42.97 L251.36,42.97 L251.93,42.97 L252.50,42.97 L253.06,42.97 L253.63,42.97 L254.20,42.97 L254.76,42.97 L255.33,42.97 L255.89,42.97 L256.46,42.97 L257.03,42.97 L257.59,42.97 L258.16,42.97 L258.73,42.97 L259.29,42.97 L259.86,42.97 L260.43,42.97 L260.99,42.97 L261.56,42.97 L262.13,42.97 L262.69,42.97 L263.26,42.97 L263.83,42.97 L264.39,42.97 L264.96,42.97 L265.52,42.97 L266.09,42.97 L266.66,42.97 L267.22,42.97 L267.79,42.97 L268.36,42.97 L268.92,42.97 L269.49,42.97 L270.06,42.97 L270.62,42.97 L271.19,42.97 L271.76,42.97 L272.32,42.97 L272.89,42.97 L273.46,42.97 L274.02,42.97 L274.59,42.97 L275.15,42.97 L275.72,42.97 L276.29,42.97 L276.85,42.97 L277.42,42.97 L277.99,42.97 L278.55,42.97 L279.12,42.97 L279.69,42.97 L280.25,42.97 L280.82,42.97 L281.39,42.97 L281.95,42.97 L282.52,42.97 L283.09,42.97 L283.65,42.97 L284.22,42.97 L284.78,42.97 L285.35,42.97 L285.92,42.97 L286.48,42.97 L287.05,42.97 L287.62,42.97 L288.18,42.97 L288.75,42.97 L288.93,43.67 L289.11,44.48 L289.29,45.33 L289.47,46.20 L289.66,47.09 L289.84,47.98 L290.02,48.87 L290.20,49.76 L290.38,50.65 L290.56,51.53 L290.74,52.41 L290.92,53.28 L291.10,54.14 L291.28,54.99 L291.47,55.83 L291.65,56.67 L291.83,57.49 L292.01,58.30 L292.19,59.10 L292.37,59.89 L292.55,60.67 L292.73,61.43 L292.91,62.19 L293.09,62.93 L293.28,63.66 L293.46,64.38 L293.64,65.08 L293.82,65.78 L294.00,66.46 L294.18,67.13 L294.36,67.79 L294.54,68.43 L294.72,69.07 L294.90,69.69 L295.09,70.30 L295.27,70.90 L295.45,71.49 L295.63,72.07 L295.81,72.64 L295.99,73.19 L296.17,73.74 L296.35,74.27 L296.53,74.80 L296.71,75.31 L296.90,75.81 L297.08,76.31 L297.26,76.79 L297.44,77.26 L297.62,77.73 L297.80,78.18 L297.98,78.62 L298.16,79.06 L298.34,79.49 L298.52,79.90 L298.71,80.31 L298.89,80.71 L299.07,81.10 L299.25,81.49 L299.43,81.86 L299.61,82.23 L299.79,82.59 L299.97,82.94 L300.15,83.28 L300.33,83.62 L300.52,83.95 L300.70,84.27 L300.88,84.58 L301.06,84.89 L301.24,85.19 L301.42,85.48 L301.60,85.77 L301.78,86.05 L301.96,86.33 L302.15,86.60 L302.33,86.86 L302.51,87.12 L302.69,87.37 L302.87,87.61 L303.05,87.85 L303.23,88.09 L303.41,88.31 L303.59,88.54 L303.77,88.76 L303.96,88.97 L304.14,89.18 L304.32,89.38 L304.50,89.58 L304.68,89.77 L304.86,89.96 L305.04,90.15 L305.22,90.33 L305.40,90.51 L305.58,90.68 L305.77,90.85 L305.95,91.01 L306.13,91.17 L306.31,91.33 L306.49,91.48 L306.67,91.63 L306.85,91.78 L307.03,91.92 L307.21,92.06 L307.39,92.19 L307.58,92.33 L307.76,92.46 L307.94,92.58 L308.12,92.71 L308.30,92.83 L308.66,93.06 L309.02,93.28 L309.39,93.49 L309.75,93.69 L310.11,93.88 L310.47,94.06 L310.83,94.23 L311.20,94.39 L311.56,94.55 L311.92,94.70 L312.28,94.84 L312.64,94.97 L313.01,95.10 L313.37,95.22 L313.73,95.34 L314.09,95.45 L314.45,95.55 L314.82,95.65 L315.18,95.74 L315.54,95.83 L315.90,95.92 L316.26,96.00 L316.63,96.07 L316.99,96.15 L317.35,96.22 L317.71,96.28 L318.07,96.34 L318.44,96.40 L318.80,96.46 L319.16,96.51 L319.52,96.56 L319.88,96.61 L320.25,96.65 L320.61,96.70 L320.97,96.74 L321.33,96.78 L321.69,96.81 L322.06,96.85 L322.42,96.88 L322.78,96.91 L323.14,96.94 L323.50,96.97 L323.87,97.00 L324.23,97.02 L324.59,97.04 L324.95,97.07 L325.32,97.09 L325.68,97.11 L326.04,97.13 L326.40,97.15 L326.76,97.16 L327.13,97.18 L327.49,97.20 L327.85,97.21 L328.21,97.22 L328.57,97.24 L328.94,97.25 L329.30,97.26 L329.66,97.27 L330.02,97.28 L330.38,97.29 L330.75,97.30 L331.11,97.31 L331.47,97.32 L331.83,97.33 L332.19,97.34 L332.56,97.34 L332.92,97.35 L333.28,97.36 L333.64,97.36 L334.00,97.37 L334.37,97.37 L334.73,97.38 L335.09,97.38 L335.45,97.39 L335.81,97.39 L336.18,97.40 L336.54,97.40 L336.90,97.40 L337.26,97.41 L337.62,97.41 L337.99,97.41 L338.35,97.42 L338.71,97.42 L339.07,97.42 L339.43,97.42 L339.80,97.43 L340.16,97.43 L340.52,97.43 L340.88,97.43 L341.24,97.44 L341.61,97.44 L341.97,97.44 L342.33,97.44 L342.69,97.44 L343.05,97.44 L343.42,97.44 L343.78,97.45 L344.14,97.45 L344.50,97.45 L344.86,97.45 L345.23,97.45 L345.59,97.45 L345.95,97.45 L346.31,97.45 L346.67,97.45 L347.04,97.45 L347.40,97.45 L347.76,97.46 L348.12,97.46 L348.48,97.46 L348.85,97.46 L349.21,97.46 L349.57,97.46 L349.93,97.46 L350.30,97.46 L350.66,97.46 L351.02,97.46 L351.38,97.46 L351.74,97.46 L352.11,97.46 L352.47,97.46 L352.83,97.46 L353.19,97.46 L353.55,97.46 L353.92,97.46 L354.28,97.46 L354.64,97.46 L355.00,97.46 L355.36,97.46 L355.73,97.46 L356.09,97.46 L356.45,97.46 L356.81,97.46 L357.17,97.46 L357.54,97.46 L357.90,97.46 L358.26,97.46 L358.62,97.46 L358.98,97.46 L359.35,97.46 L359.71,97.47 L360.07,97.47 L360.43,97.47 L360.79,97.47 L362.68,97.47 L364.38,97.47 L366.08,97.47 L367.78,97.47 L369.49,97.47 L371.19,97.47 L372.89,97.47 L374.59,97.47 L376.30,97.47 L378.00,97.47 L379.70,97.47 L381.40,97.47 L383.10,97.47 L384.81,97.47 L386.51,97.47 L388.21,97.47 L389.91,97.47 L391.62,97.47 L393.32,97.47 L395.02,97.47 L396.72,97.47 L398.43,97.47 L400.13,97.47 L401.83,97.47 L403.53,97.47 L405.23,97.47 L406.94,97.47 L408.64,97.47 L410.34,97.47 L412.04,97.47 L413.75,97.47 L415.45,97.47 L417.15,97.47 L418.85,97.47 L420.55,97.47 L422.26,97.47 L423.96,97.47 L425.66,97.47 L427.36,97.47 L429.07,97.47 L430.77,97.47 L432.47,97.47 L434.17,97.47 L435.88,97.47 L437.58,97.47 L439.28,97.47 L440.98,97.47 L442.68,97.47 L444.39,97.47 L446.09,97.47 L447.79,97.47 L449.49,97.47 L451.20,97.47 L452.90,97.47 L454.60,97.47 L456.30,97.47 L458.00,97.47 L459.71,97.47 L461.41,97.47 L463.11,97.47 L464.81,97.47 L466.52,97.47 L468.22,97.47 L469.92,97.47 L471.62,97.47 L473.32,97.47 L475.03,97.47 L476.73,97.47 L478.43,97.47 L480.13,97.47 L481.84,97.47 L483.54,97.47 L485.24,97.47 L486.94,97.47 L488.65,97.47 L490.35,97.47 L492.05,97.47 L493.75,97.47 L495.45,97.47 L497.16,97.47 L498.86,97.47 L500.56,97.47 L502.26,97.47 L503.97,97.47 L505.67,97.47 L507.37,97.47 L509.07,97.47 L510.77,97.47 L512.48,97.47 L514.18,97.47 L515.88,97.47 L517.58,97.47 L519.29,97.47 L520.99,97.47 L522.69,97.47 L524.39,97.47 L526.10,97.47 L527.80,97.47 L529.50,97.47" stroke="#2588d4" stroke-width="1.3"/><line x1="528.60" y1="96.37" x2="530.80" y2="96.37" stroke="#ff0000" stroke-width="2.4"/></g>
<text x="48.00" y="204.90" class="tk" text-anchor="middle">0</text>
<text x="96.15" y="204.90" class="tk" text-anchor="middle">200</text>
<text x="144.30" y="204.90" class="tk" text-anchor="middle">400</text>
<text x="192.45" y="204.90" class="tk" text-anchor="middle">600</text>
<text x="240.60" y="204.90" class="tk" text-anchor="middle">800</text>
<text x="288.75" y="204.90" class="tk" text-anchor="middle">1000</text>
<text x="336.90" y="204.90" class="tk" text-anchor="middle">1200</text>
<text x="385.05" y="204.90" class="tk" text-anchor="middle">1400</text>
<text x="433.20" y="204.90" class="tk" text-anchor="middle">1600</text>
<text x="481.35" y="204.90" class="tk" text-anchor="middle">1800</text>
<text x="529.50" y="204.90" class="tk" text-anchor="middle">2000</text>
<text x="43.2" y="174.33" class="tk" text-anchor="end">10</text>
<text x="43.2" y="138.00" class="tk" text-anchor="end">12</text>
<text x="43.2" y="101.67" class="tk" text-anchor="end">14</text>
<text x="43.2" y="65.33" class="tk" text-anchor="end">16</text>
<text x="43.2" y="29.00" class="tk" text-anchor="end">18</text>
<text transform="translate(16.6,105.3) rotate(-90)" class="lb" text-anchor="middle">P<tspan dy="6.1" font-size="9">T</tspan><tspan dy="-6.1" letter-spacing="0.25"> (MPa)</tspan></text>
<text x="289.1" y="224.00" class="lb" text-anchor="middle">Time (Seconds)</text>
<rect x="389.0" y="23.5" width="140.5" height="54.2" fill="#fff" stroke="#1e1e1e" stroke-width="1.1"/>
<line x1="395.8" y1="33.5" x2="434.8" y2="33.5" stroke="#ff0000" stroke-width="2.4" stroke-dasharray="2.2 1.55"/>
<line x1="395.8" y1="48.7" x2="434.8" y2="48.7" stroke="#22ee22" stroke-width="2"/>
<line x1="396.3" y1="66.5" x2="434.0" y2="66.5" stroke="#2588d4" stroke-width="1.3"/>
<text x="436.9" y="38.10" class="lg">Reference</text>
<text x="436.9" y="52.90" class="lg">FOPID based ILC</text>
<text x="436.9" y="68.90" class="lg">H<tspan dx="0.5" dy="7.1" font-size="11.8" fill="#666" stroke="none">∞</tspan><tspan dx="0.5" dy="-7.1">-LQR</tspan></text>
<line x1="96.15" y1="249.5" x2="96.15" y2="413.0" stroke="#dedede" stroke-width="1"/>
<line x1="144.30" y1="249.5" x2="144.30" y2="413.0" stroke="#dedede" stroke-width="1"/>
<line x1="192.45" y1="249.5" x2="192.45" y2="413.0" stroke="#dedede" stroke-width="1"/>
<line x1="240.60" y1="249.5" x2="240.60" y2="413.0" stroke="#dedede" stroke-width="1"/>
<line x1="288.75" y1="249.5" x2="288.75" y2="413.0" stroke="#dedede" stroke-width="1"/>
<line x1="336.90" y1="249.5" x2="336.90" y2="413.0" stroke="#dedede" stroke-width="1"/>
<line x1="385.05" y1="249.5" x2="385.05" y2="413.0" stroke="#dedede" stroke-width="1"/>
<line x1="433.20" y1="249.5" x2="433.20" y2="413.0" stroke="#dedede" stroke-width="1"/>
<line x1="481.35" y1="249.5" x2="481.35" y2="413.0" stroke="#dedede" stroke-width="1"/>
<line x1="48.0" y1="366.29" x2="529.5" y2="366.29" stroke="#dedede" stroke-width="1"/>
<line x1="48.0" y1="319.57" x2="529.5" y2="319.57" stroke="#dedede" stroke-width="1"/>
<line x1="48.0" y1="272.86" x2="529.5" y2="272.86" stroke="#dedede" stroke-width="1"/>
<line x1="48.0" y1="249.0" x2="48.0" y2="413.5" stroke="#1e1e1e" stroke-width="1.1"/>
<line x1="47.5" y1="413.0" x2="530.0" y2="413.0" stroke="#1e1e1e" stroke-width="1.1"/>
<line x1="47.5" y1="249.5" x2="530.0" y2="249.5" stroke="#6a6a6a" stroke-width="1.5"/>
<line x1="529.5" y1="249.0" x2="529.5" y2="413.5" stroke="#6a6a6a" stroke-width="1.5"/>
<line x1="96.15" y1="413.0" x2="96.15" y2="408.2" stroke="#1e1e1e" stroke-width="1.1"/>
<line x1="96.15" y1="249.5" x2="96.15" y2="254.3" stroke="#1e1e1e" stroke-width="1.1"/>
<line x1="144.30" y1="413.0" x2="144.30" y2="408.2" stroke="#1e1e1e" stroke-width="1.1"/>
<line x1="144.30" y1="249.5" x2="144.30" y2="254.3" stroke="#1e1e1e" stroke-width="1.1"/>
<line x1="192.45" y1="413.0" x2="192.45" y2="408.2" stroke="#1e1e1e" stroke-width="1.1"/>
<line x1="192.45" y1="249.5" x2="192.45" y2="254.3" stroke="#1e1e1e" stroke-width="1.1"/>
<line x1="240.60" y1="413.0" x2="240.60" y2="408.2" stroke="#1e1e1e" stroke-width="1.1"/>
<line x1="240.60" y1="249.5" x2="240.60" y2="254.3" stroke="#1e1e1e" stroke-width="1.1"/>
<line x1="288.75" y1="413.0" x2="288.75" y2="408.2" stroke="#1e1e1e" stroke-width="1.1"/>
<line x1="288.75" y1="249.5" x2="288.75" y2="254.3" stroke="#1e1e1e" stroke-width="1.1"/>
<line x1="336.90" y1="413.0" x2="336.90" y2="408.2" stroke="#1e1e1e" stroke-width="1.1"/>
<line x1="336.90" y1="249.5" x2="336.90" y2="254.3" stroke="#1e1e1e" stroke-width="1.1"/>
<line x1="385.05" y1="413.0" x2="385.05" y2="408.2" stroke="#1e1e1e" stroke-width="1.1"/>
<line x1="385.05" y1="249.5" x2="385.05" y2="254.3" stroke="#1e1e1e" stroke-width="1.1"/>
<line x1="433.20" y1="413.0" x2="433.20" y2="408.2" stroke="#1e1e1e" stroke-width="1.1"/>
<line x1="433.20" y1="249.5" x2="433.20" y2="254.3" stroke="#1e1e1e" stroke-width="1.1"/>
<line x1="481.35" y1="413.0" x2="481.35" y2="408.2" stroke="#1e1e1e" stroke-width="1.1"/>
<line x1="481.35" y1="249.5" x2="481.35" y2="254.3" stroke="#1e1e1e" stroke-width="1.1"/>
<line x1="48.0" y1="366.29" x2="52.8" y2="366.29" stroke="#1e1e1e" stroke-width="1.1"/>
<line x1="529.5" y1="366.29" x2="524.7" y2="366.29" stroke="#1e1e1e" stroke-width="1.1"/>
<line x1="48.0" y1="319.57" x2="52.8" y2="319.57" stroke="#1e1e1e" stroke-width="1.1"/>
<line x1="529.5" y1="319.57" x2="524.7" y2="319.57" stroke="#1e1e1e" stroke-width="1.1"/>
<line x1="48.0" y1="272.86" x2="52.8" y2="272.86" stroke="#1e1e1e" stroke-width="1.1"/>
<line x1="529.5" y1="272.86" x2="524.7" y2="272.86" stroke="#1e1e1e" stroke-width="1.1"/>
<g clip-path="url(#c2)" fill="none" stroke-linejoin="round"><path d="M46.9,273.26 L72.08,273.26 L72.08,328.91 L529.5,328.91" stroke="#ff0000" stroke-width="2.4" stroke-dasharray="2.2 1.55"/><path d="M48.00,413.00 L48.12,412.40 L48.18,411.87 L48.24,411.24 L48.30,410.50 L48.36,409.69 L48.42,408.79 L48.48,407.83 L48.54,406.80 L48.60,405.72 L48.66,404.58 L48.72,403.39 L48.78,402.15 L48.84,400.88 L48.91,399.56 L48.97,398.20 L49.03,396.82 L49.09,395.40 L49.15,393.95 L49.21,392.48 L49.27,390.98 L49.33,389.46 L49.39,387.92 L49.45,386.37 L49.51,384.80 L49.57,383.21 L49.63,381.62 L49.69,380.01 L49.75,378.40 L49.81,376.78 L49.87,375.15 L49.93,373.52 L49.99,371.89 L50.05,370.26 L50.11,368.62 L50.17,366.99 L50.23,365.37 L50.29,363.74 L50.35,362.12 L50.41,360.51 L50.47,358.91 L50.53,357.31 L50.59,355.72 L50.65,354.14 L50.72,352.57 L50.78,351.02 L50.84,349.47 L50.90,347.94 L50.96,346.42 L51.02,344.92 L51.08,343.43 L51.14,341.95 L51.20,340.49 L51.26,339.05 L51.32,337.63 L51.38,336.22 L51.44,334.83 L51.50,333.45 L51.56,332.10 L51.62,330.76 L51.68,329.44 L51.74,328.14 L51.80,326.86 L51.86,325.60 L51.92,324.36 L51.98,323.13 L52.04,321.93 L52.10,320.75 L52.16,319.58 L52.22,318.44 L52.28,317.31 L52.34,316.21 L52.40,315.13 L52.47,314.06 L52.53,313.02 L52.59,311.99 L52.65,310.99 L52.71,310.00 L52.77,309.04 L52.83,308.09 L52.89,307.16 L52.95,306.25 L53.01,305.36 L53.07,304.49 L53.13,303.64 L53.19,302.81 L53.25,301.99 L53.31,301.20 L53.37,300.42 L53.43,299.66 L53.49,298.91 L53.55,298.19 L53.61,297.48 L53.67,296.79 L53.73,296.11 L53.79,295.45 L53.85,294.81 L53.91,294.18 L53.97,293.57 L54.03,292.97 L54.09,292.39 L54.15,291.83 L54.21,291.27 L54.28,290.74 L54.34,290.21 L54.40,289.70 L54.46,289.21 L54.52,288.73 L54.58,288.26 L54.64,287.80 L54.70,287.36 L54.76,286.93 L54.82,286.51 L54.88,286.10 L54.94,285.71 L55.00,285.32 L55.06,284.95 L55.12,284.59 L55.18,284.23 L55.24,283.89 L55.30,283.56 L55.36,283.24 L55.42,282.93 L55.48,282.63 L55.54,282.33 L55.60,282.05 L55.66,281.77 L55.72,281.51 L55.78,281.25 L55.84,281.00 L55.90,280.76 L56.02,280.30 L56.15,279.86 L56.27,279.46 L56.39,279.08 L56.51,278.73 L56.63,278.40 L56.75,278.09 L56.87,277.80 L56.99,277.53 L57.11,277.28 L57.23,277.05 L57.35,276.83 L57.47,276.63 L57.59,276.45 L57.77,276.19 L57.96,275.97 L58.14,275.76 L58.32,275.58 L58.50,275.42 L58.68,275.28 L58.86,275.16 L59.10,275.01 L59.34,274.89 L59.58,274.78 L59.83,274.69 L60.07,274.62 L60.31,274.56 L60.61,274.50 L60.91,274.44 L61.21,274.40 L61.52,274.37 L61.82,274.35 L62.12,274.33 L62.42,274.31 L62.72,274.30 L63.02,274.29 L63.33,274.28 L63.63,274.28 L63.93,274.27 L64.23,274.27 L64.53,274.27 L64.83,274.26 L65.14,274.26 L65.44,274.26 L65.74,274.26 L66.04,274.26 L66.34,274.26 L66.64,274.26 L66.95,274.26 L67.25,274.26 L67.55,274.26 L67.85,274.26 L68.15,274.26 L68.45,274.26 L68.76,274.26 L69.06,274.26 L69.36,274.26 L69.66,274.26 L69.96,274.26 L70.26,274.26 L70.57,274.26 L70.87,274.26 L71.17,274.26 L71.47,274.26 L71.77,274.26 L72.08,274.26 L72.40,276.07 L72.48,277.81 L72.56,279.49 L72.64,281.12 L72.72,282.69 L72.80,284.21 L72.88,285.68 L72.96,287.10 L73.04,288.48 L73.12,289.81 L73.20,291.09 L73.28,292.34 L73.36,293.54 L73.44,294.71 L73.52,295.83 L73.60,296.92 L73.69,297.97 L73.77,298.99 L73.85,299.97 L73.93,300.92 L74.01,301.85 L74.09,302.74 L74.17,303.60 L74.25,304.43 L74.33,305.24 L74.41,306.01 L74.49,306.77 L74.57,307.50 L74.65,308.20 L74.73,308.88 L74.81,309.54 L74.89,310.18 L74.97,310.79 L75.05,311.39 L75.13,311.97 L75.22,312.52 L75.30,313.06 L75.38,313.58 L75.46,314.09 L75.54,314.58 L75.62,315.05 L75.70,315.50 L75.78,315.94 L75.86,316.37 L75.94,316.78 L76.02,317.18 L76.10,317.57 L76.18,317.94 L76.26,318.30 L76.34,318.65 L76.42,318.99 L76.50,319.32 L76.58,319.63 L76.66,319.94 L76.75,320.23 L76.83,320.52 L76.91,320.79 L76.99,321.06 L77.07,321.32 L77.15,321.57 L77.23,321.81 L77.31,322.04 L77.39,322.27 L77.55,322.70 L77.71,323.10 L77.87,323.48 L78.03,323.83 L78.19,324.16 L78.36,324.47 L78.52,324.75 L78.68,325.02 L78.84,325.28 L79.00,325.51 L79.16,325.73 L79.32,325.94 L79.48,326.13 L79.64,326.31 L79.80,326.48 L79.97,326.64 L80.13,326.78 L80.37,326.99 L80.61,327.17 L80.85,327.34 L81.09,327.49 L81.33,327.62 L81.58,327.75 L81.82,327.86 L82.06,327.96 L82.30,328.05 L82.54,328.13 L82.78,328.21 L83.03,328.28 L83.27,328.34 L83.59,328.41 L83.91,328.47 L84.23,328.53 L84.56,328.58 L84.88,328.62 L85.20,328.66 L85.52,328.69 L85.84,328.72 L86.17,328.74 L86.49,328.76 L86.81,328.78 L87.13,328.80 L87.45,328.81 L87.78,328.83 L88.10,328.84 L88.42,328.85 L88.74,328.85 L89.06,328.86 L89.39,328.87 L89.71,328.87 L90.03,328.88 L90.35,328.88 L90.67,328.89 L91.00,328.89 L91.32,328.89 L91.64,328.90 L91.96,328.90 L92.29,328.90 L92.61,328.90 L92.93,328.90 L93.25,328.91 L93.57,328.91 L93.90,328.91 L94.22,328.91 L94.54,328.91 L94.86,328.91 L95.18,328.91 L95.51,328.91 L95.83,328.91 L96.15,328.91 L104.99,328.91 L113.84,328.91 L122.68,328.91 L131.53,328.91 L140.37,328.91 L149.21,328.91 L158.06,328.91 L166.90,328.91 L175.74,328.91 L184.59,328.91 L193.43,328.91 L202.28,328.91 L211.12,328.91 L219.96,328.91 L228.81,328.91 L237.65,328.91 L246.50,328.91 L255.34,328.91 L264.18,328.91 L273.03,328.91 L281.87,328.91 L290.72,328.91 L299.56,328.91 L308.40,328.91 L317.25,328.91 L326.09,328.91 L334.93,328.91 L343.78,328.91 L352.62,328.91 L361.47,328.91 L370.31,328.91 L379.15,328.91 L388.00,328.91 L396.84,328.91 L405.69,328.91 L414.53,328.91 L423.37,328.91 L432.22,328.91 L441.06,328.91 L449.91,328.91 L458.75,328.91 L467.59,328.91 L476.44,328.91 L485.28,328.91 L494.12,328.91 L502.97,328.91 L511.81,328.91 L520.66,328.91 L529.50,328.91" stroke="#22ee22" stroke-width="2"/><path d="M48.00,413.30 L48.18,413.05 L48.30,412.70 L48.42,412.24 L48.48,411.98 L48.54,411.69 L48.60,411.39 L48.66,411.06 L48.72,410.71 L48.78,410.34 L48.84,409.95 L48.91,409.54 L48.97,409.12 L49.03,408.68 L49.09,408.22 L49.15,407.75 L49.21,407.26 L49.27,406.75 L49.33,406.23 L49.39,405.70 L49.45,405.16 L49.51,404.60 L49.57,404.02 L49.63,403.44 L49.69,402.84 L49.75,402.23 L49.81,401.61 L49.87,400.98 L49.93,400.34 L49.99,399.69 L50.05,399.02 L50.11,398.35 L50.17,397.67 L50.23,396.98 L50.29,396.28 L50.35,395.57 L50.41,394.85 L50.47,394.13 L50.53,393.40 L50.59,392.66 L50.65,391.91 L50.72,391.16 L50.78,390.40 L50.84,389.63 L50.90,388.86 L50.96,388.08 L51.02,387.30 L51.08,386.51 L51.14,385.71 L51.20,384.92 L51.26,384.11 L51.32,383.31 L51.38,382.50 L51.44,381.68 L51.50,380.86 L51.56,380.04 L51.62,379.22 L51.68,378.39 L51.74,377.56 L51.80,376.73 L51.86,375.89 L51.92,375.06 L51.98,374.22 L52.04,373.38 L52.10,372.54 L52.16,371.70 L52.22,370.85 L52.28,370.01 L52.34,369.17 L52.40,368.32 L52.47,367.48 L52.53,366.63 L52.59,365.79 L52.65,364.94 L52.71,364.10 L52.77,363.25 L52.83,362.41 L52.89,361.57 L52.95,360.73 L53.01,359.89 L53.07,359.05 L53.13,358.21 L53.19,357.38 L53.25,356.54 L53.31,355.71 L53.37,354.88 L53.43,354.06 L53.49,353.23 L53.55,352.41 L53.61,351.59 L53.67,350.78 L53.73,349.96 L53.79,349.15 L53.85,348.34 L53.91,347.54 L53.97,346.74 L54.03,345.94 L54.09,345.15 L54.15,344.36 L54.21,343.57 L54.28,342.79 L54.34,342.01 L54.40,341.23 L54.46,340.46 L54.52,339.69 L54.58,338.93 L54.64,338.17 L54.70,337.42 L54.76,336.67 L54.82,335.92 L54.88,335.18 L54.94,334.45 L55.00,333.71 L55.06,332.99 L55.12,332.27 L55.18,331.55 L55.24,330.84 L55.30,330.13 L55.36,329.43 L55.42,328.73 L55.48,328.04 L55.54,327.35 L55.60,326.67 L55.66,325.99 L55.72,325.32 L55.78,324.66 L55.84,324.00 L55.90,323.34 L55.96,322.69 L56.02,322.05 L56.09,321.41 L56.15,320.78 L56.21,320.15 L56.27,319.53 L56.33,318.91 L56.39,318.30 L56.45,317.69 L56.51,317.09 L56.57,316.50 L56.63,315.91 L56.69,315.33 L56.75,314.75 L56.81,314.18 L56.87,313.61 L56.93,313.05 L56.99,312.49 L57.05,311.94 L57.11,311.40 L57.17,310.86 L57.23,310.33 L57.29,309.80 L57.35,309.28 L57.41,308.76 L57.47,308.25 L57.53,307.75 L57.59,307.25 L57.65,306.75 L57.71,306.26 L57.77,305.78 L57.84,305.30 L57.90,304.83 L57.96,304.36 L58.02,303.90 L58.08,303.45 L58.14,303.00 L58.20,302.55 L58.26,302.11 L58.32,301.68 L58.38,301.25 L58.44,300.82 L58.50,300.40 L58.56,299.99 L58.62,299.58 L58.68,299.18 L58.74,298.78 L58.80,298.38 L58.86,298.00 L58.92,297.61 L58.98,297.23 L59.04,296.86 L59.10,296.49 L59.16,296.13 L59.22,295.77 L59.28,295.41 L59.34,295.06 L59.40,294.72 L59.46,294.38 L59.52,294.04 L59.58,293.71 L59.65,293.39 L59.71,293.06 L59.77,292.75 L59.83,292.43 L59.89,292.12 L59.95,291.82 L60.01,291.52 L60.07,291.23 L60.13,290.93 L60.19,290.65 L60.25,290.37 L60.31,290.09 L60.37,289.81 L60.43,289.54 L60.49,289.28 L60.55,289.01 L60.61,288.75 L60.67,288.50 L60.73,288.25 L60.79,288.00 L60.85,287.76 L60.97,287.28 L61.09,286.82 L61.21,286.38 L61.33,285.95 L61.46,285.53 L61.58,285.12 L61.70,284.73 L61.82,284.35 L61.94,283.99 L62.06,283.63 L62.18,283.29 L62.30,282.96 L62.42,282.64 L62.54,282.33 L62.66,282.03 L62.78,281.74 L62.90,281.47 L63.02,281.20 L63.14,280.94 L63.27,280.69 L63.39,280.45 L63.51,280.22 L63.63,280.00 L63.75,279.78 L63.87,279.58 L63.99,279.38 L64.11,279.19 L64.23,279.00 L64.41,278.74 L64.59,278.49 L64.77,278.26 L64.96,278.04 L65.14,277.83 L65.32,277.63 L65.50,277.45 L65.68,277.28 L65.86,277.12 L66.04,276.96 L66.22,276.82 L66.40,276.69 L66.58,276.56 L66.83,276.41 L67.07,276.27 L67.31,276.14 L67.55,276.02 L67.79,275.91 L68.03,275.81 L68.27,275.72 L68.52,275.64 L68.76,275.57 L69.00,275.50 L69.24,275.44 L69.54,275.37 L69.84,275.31 L70.14,275.26 L70.45,275.21 L70.75,275.17 L71.05,275.13 L71.35,275.10 L71.65,275.07 L71.95,275.05 L72.24,275.79 L72.40,277.39 L72.56,278.94 L72.72,280.45 L72.88,281.91 L73.04,283.32 L73.20,284.70 L73.36,286.03 L73.52,287.32 L73.69,288.58 L73.85,289.80 L74.01,290.98 L74.17,292.12 L74.33,293.23 L74.49,294.31 L74.65,295.35 L74.81,296.37 L74.97,297.35 L75.13,298.31 L75.30,299.23 L75.46,300.13 L75.62,301.00 L75.78,301.85 L75.94,302.67 L76.10,303.46 L76.26,304.23 L76.42,304.98 L76.58,305.71 L76.75,306.41 L76.91,307.09 L77.07,307.76 L77.23,308.40 L77.39,309.02 L77.55,309.63 L77.71,310.21 L77.87,310.78 L78.03,311.33 L78.19,311.87 L78.36,312.39 L78.52,312.89 L78.68,313.38 L78.84,313.86 L79.00,314.32 L79.16,314.76 L79.32,315.19 L79.48,315.61 L79.64,316.02 L79.80,316.42 L79.97,316.80 L80.13,317.17 L80.29,317.53 L80.45,317.88 L80.61,318.22 L80.77,318.55 L80.93,318.87 L81.09,319.18 L81.25,319.48 L81.42,319.77 L81.58,320.05 L81.74,320.33 L81.90,320.59 L82.06,320.85 L82.22,321.10 L82.38,321.35 L82.54,321.58 L82.70,321.81 L82.86,322.03 L83.03,322.25 L83.19,322.46 L83.35,322.66 L83.51,322.85 L83.67,323.05 L83.83,323.23 L83.99,323.41 L84.15,323.58 L84.31,323.75 L84.47,323.92 L84.64,324.07 L84.80,324.23 L84.96,324.38 L85.12,324.52 L85.28,324.66 L85.60,324.93 L85.92,325.18 L86.25,325.42 L86.57,325.65 L86.89,325.86 L87.21,326.05 L87.53,326.24 L87.86,326.42 L88.18,326.58 L88.50,326.74 L88.82,326.88 L89.14,327.02 L89.47,327.15 L89.79,327.27 L90.11,327.39 L90.43,327.49 L90.76,327.60 L91.08,327.69 L91.40,327.78 L91.72,327.87 L92.04,327.94 L92.37,328.02 L92.69,328.09 L93.01,328.16 L93.33,328.22 L93.65,328.28 L93.98,328.33 L94.30,328.38 L94.62,328.43 L94.94,328.48 L95.26,328.52 L95.59,328.56 L95.91,328.60 L96.23,328.64 L96.55,328.67 L96.87,328.70 L97.20,328.73 L97.52,328.76 L97.84,328.79 L98.16,328.81 L98.49,328.84 L98.81,328.86 L99.13,328.88 L99.45,328.90 L99.77,328.92 L100.10,328.94 L100.42,328.95 L100.74,328.97 L101.06,328.98 L101.38,329.00 L101.71,329.01 L102.03,329.02 L102.35,329.03 L102.67,329.04 L102.99,329.05 L103.32,329.06 L103.64,329.07 L103.96,329.08 L104.28,329.09 L104.60,329.10 L104.93,329.10 L105.25,329.11 L105.57,329.12 L105.89,329.12 L106.21,329.13 L106.54,329.13 L106.86,329.14 L107.18,329.14 L107.50,329.15 L107.83,329.15 L108.15,329.15 L108.47,329.16 L108.79,329.16 L109.11,329.16 L109.44,329.17 L109.76,329.17 L110.08,329.17 L110.40,329.17 L110.72,329.18 L111.05,329.18 L111.37,329.18 L111.69,329.18 L112.01,329.19 L112.33,329.19 L112.66,329.19 L112.98,329.19 L113.30,329.19 L113.62,329.19 L113.94,329.19 L114.27,329.20 L114.59,329.20 L114.91,329.20 L115.23,329.20 L115.55,329.20 L115.88,329.20 L116.20,329.20 L116.52,329.20 L116.84,329.20 L117.17,329.20 L117.49,329.20 L117.81,329.20 L118.13,329.21 L118.45,329.21 L118.78,329.21 L119.10,329.21 L119.42,329.21 L119.74,329.21 L120.06,329.21 L128.58,329.21 L136.93,329.21 L145.28,329.21 L153.64,329.21 L161.99,329.21 L170.34,329.21 L178.69,329.21 L187.05,329.21 L195.40,329.21 L203.75,329.21 L212.10,329.21 L220.46,329.21 L228.81,329.21 L237.16,329.21 L245.51,329.21 L253.87,329.21 L262.22,329.21 L270.57,329.21 L278.92,329.21 L287.28,329.21 L295.63,329.21 L303.98,329.21 L312.33,329.21 L320.69,329.21 L329.04,329.21 L337.39,329.21 L345.74,329.21 L354.10,329.21 L362.45,329.21 L370.80,329.21 L379.15,329.21 L387.51,329.21 L395.86,329.21 L404.21,329.21 L412.56,329.21 L420.92,329.21 L429.27,329.21 L437.62,329.21 L445.97,329.21 L454.33,329.21 L462.68,329.21 L471.03,329.21 L479.38,329.21 L487.74,329.21 L496.09,329.21 L504.44,329.21 L512.79,329.21 L521.15,329.21 L529.50,329.21" stroke="#2588d4" stroke-width="1.3"/><path d="M72.08,328.91 L87.72,328.91" stroke="#ff0000" stroke-width="2.2" stroke-dasharray="2.2 1.55" stroke-dashoffset="80.83"/><path d="M87.72,328.91 L529.5,328.91" stroke="#2f6a52" stroke-width="1.5" stroke-dasharray="2.2 1.55" stroke-dashoffset="96.48"/><line x1="528.60" y1="328.91" x2="530.80" y2="328.91" stroke="#ff0000" stroke-width="2.4"/></g>
<text x="48.00" y="430.90" class="tk" text-anchor="middle">0</text>
<text x="96.15" y="430.90" class="tk" text-anchor="middle">200</text>
<text x="144.30" y="430.90" class="tk" text-anchor="middle">400</text>
<text x="192.45" y="430.90" class="tk" text-anchor="middle">600</text>
<text x="240.60" y="430.90" class="tk" text-anchor="middle">800</text>
<text x="288.75" y="430.90" class="tk" text-anchor="middle">1000</text>
<text x="336.90" y="430.90" class="tk" text-anchor="middle">1200</text>
<text x="385.05" y="430.90" class="tk" text-anchor="middle">1400</text>
<text x="433.20" y="430.90" class="tk" text-anchor="middle">1600</text>
<text x="481.35" y="430.90" class="tk" text-anchor="middle">1800</text>
<text x="529.50" y="430.90" class="tk" text-anchor="middle">2000</text>
<text x="43.2" y="418.50" class="tk" text-anchor="end">200</text>
<text x="43.2" y="371.79" class="tk" text-anchor="end">300</text>
<text x="43.2" y="325.07" class="tk" text-anchor="end">400</text>
<text x="43.2" y="278.36" class="tk" text-anchor="end">500</text>
<text transform="translate(16.2,331.2) rotate(-90)" class="yl" text-anchor="middle">N (MW)</text>
<text x="289.1" y="450.00" class="lb" text-anchor="middle">Time (Seconds)</text>
<rect x="390.0" y="249.5" width="139.5" height="54.2" fill="#fff" stroke="#1e1e1e" stroke-width="1.1"/>
<line x1="396.8" y1="259.5" x2="435.8" y2="259.5" stroke="#ff0000" stroke-width="2.4" stroke-dasharray="2.2 1.55"/>
<line x1="396.8" y1="274.7" x2="435.8" y2="274.7" stroke="#22ee22" stroke-width="2"/>
<line x1="397.3" y1="291.5" x2="435.0" y2="291.5" stroke="#2588d4" stroke-width="1.3"/>
<text x="437.9" y="264.10" class="lg">Reference</text>
<text x="437.9" y="278.90" class="lg">FOPID based ILC</text>
<text x="437.9" y="293.90" class="lg">H<tspan dx="0.5" dy="7.1" font-size="11.8" fill="#666" stroke="none">∞</tspan><tspan dx="0.5" dy="-7.1">-LQR</tspan></text>
</g>
<g filter="url(#soft)">
<rect width="550" height="456" fill="#fff"/>
<text x="289.2" y="16.6" class="tt" text-anchor="middle">FOPID based PD-type ILC</text>
<line x1="96.15" y1="23.5" x2="96.15" y2="187.0" stroke="#dedede" stroke-width="1"/>
<line x1="144.30" y1="23.5" x2="144.30" y2="187.0" stroke="#dedede" stroke-width="1"/>
<line x1="192.45" y1="23.5" x2="192.45" y2="187.0" stroke="#dedede" stroke-width="1"/>
<line x1="240.60" y1="23.5" x2="240.60" y2="187.0" stroke="#dedede" stroke-width="1"/>
<line x1="288.75" y1="23.5" x2="288.75" y2="187.0" stroke="#dedede" stroke-width="1"/>
<line x1="336.90" y1="23.5" x2="336.90" y2="187.0" stroke="#dedede" stroke-width="1"/>
<line x1="385.05" y1="23.5" x2="385.05" y2="187.0" stroke="#dedede" stroke-width="1"/>
<line x1="433.20" y1="23.5" x2="433.20" y2="187.0" stroke="#dedede" stroke-width="1"/>
<line x1="481.35" y1="23.5" x2="481.35" y2="187.0" stroke="#dedede" stroke-width="1"/>
<line x1="48.0" y1="168.83" x2="529.5" y2="168.83" stroke="#dedede" stroke-width="1"/>
<line x1="48.0" y1="132.50" x2="529.5" y2="132.50" stroke="#dedede" stroke-width="1"/>
<line x1="48.0" y1="96.17" x2="529.5" y2="96.17" stroke="#dedede" stroke-width="1"/>
<line x1="48.0" y1="59.83" x2="529.5" y2="59.83" stroke="#dedede" stroke-width="1"/>
<line x1="48.0" y1="23.0" x2="48.0" y2="187.5" stroke="#1e1e1e" stroke-width="1.1"/>
<line x1="47.5" y1="187.0" x2="530.0" y2="187.0" stroke="#1e1e1e" stroke-width="1.1"/>
<line x1="47.5" y1="23.5" x2="530.0" y2="23.5" stroke="#6a6a6a" stroke-width="1.5"/>
<line x1="529.5" y1="23.0" x2="529.5" y2="187.5" stroke="#6a6a6a" stroke-width="1.5"/>
<line x1="96.15" y1="187.0" x2="96.15" y2="182.2" stroke="#1e1e1e" stroke-width="1.1"/>
<line x1="96.15" y1="23.5" x2="96.15" y2="28.3" stroke="#1e1e1e" stroke-width="1.1"/>
<line x1="144.30" y1="187.0" x2="144.30" y2="182.2" stroke="#1e1e1e" stroke-width="1.1"/>
<line x1="144.30" y1="23.5" x2="144.30" y2="28.3" stroke="#1e1e1e" stroke-width="1.1"/>
<line x1="192.45" y1="187.0" x2="192.45" y2="182.2" stroke="#1e1e1e" stroke-width="1.1"/>
<line x1="192.45" y1="23.5" x2="192.45" y2="28.3" stroke="#1e1e1e" stroke-width="1.1"/>
<line x1="240.60" y1="187.0" x2="240.60" y2="182.2" stroke="#1e1e1e" stroke-width="1.1"/>
<line x1="240.60" y1="23.5" x2="240.60" y2="28.3" stroke="#1e1e1e" stroke-width="1.1"/>
<line x1="288.75" y1="187.0" x2="288.75" y2="182.2" stroke="#1e1e1e" stroke-width="1.1"/>
<line x1="288.75" y1="23.5" x2="288.75" y2="28.3" stroke="#1e1e1e" stroke-width="1.1"/>
<line x1="336.90" y1="187.0" x2="336.90" y2="182.2" stroke="#1e1e1e" stroke-width="1.1"/>
<line x1="336.90" y1="23.5" x2="336.90" y2="28.3" stroke="#1e1e1e" stroke-width="1.1"/>
<line x1="385.05" y1="187.0" x2="385.05" y2="182.2" stroke="#1e1e1e" stroke-width="1.1"/>
<line x1="385.05" y1="23.5" x2="385.05" y2="28.3" stroke="#1e1e1e" stroke-width="1.1"/>
<line x1="433.20" y1="187.0" x2="433.20" y2="182.2" stroke="#1e1e1e" stroke-width="1.1"/>
<line x1="433.20" y1="23.5" x2="433.20" y2="28.3" stroke="#1e1e1e" stroke-width="1.1"/>
<line x1="481.35" y1="187.0" x2="481.35" y2="182.2" stroke="#1e1e1e" stroke-width="1.1"/>
<line x1="481.35" y1="23.5" x2="481.35" y2="28.3" stroke="#1e1e1e" stroke-width="1.1"/>
<line x1="48.0" y1="168.83" x2="52.8" y2="168.83" stroke="#1e1e1e" stroke-width="1.1"/>
<line x1="529.5" y1="168.83" x2="524.7" y2="168.83" stroke="#1e1e1e" stroke-width="1.1"/>
<line x1="48.0" y1="132.50" x2="52.8" y2="132.50" stroke="#1e1e1e" stroke-width="1.1"/>
<line x1="529.5" y1="132.50" x2="524.7" y2="132.50" stroke="#1e1e1e" stroke-width="1.1"/>
<line x1="48.0" y1="96.17" x2="52.8" y2="96.17" stroke="#1e1e1e" stroke-width="1.1"/>
<line x1="529.5" y1="96.17" x2="524.7" y2="96.17" stroke="#1e1e1e" stroke-width="1.1"/>
<line x1="48.0" y1="59.83" x2="52.8" y2="59.83" stroke="#1e1e1e" stroke-width="1.1"/>
<line x1="529.5" y1="59.83" x2="524.7" y2="59.83" stroke="#1e1e1e" stroke-width="1.1"/>
<g clip-path="url(#c1)" fill="none" stroke-linejoin="round"><path d="M46.9,41.37 L288.75,41.37 L288.75,95.87 L529.5,95.87" stroke="#ff0000" stroke-width="2.4" stroke-dasharray="2.2 1.55"/><path d="M48.00,249.71 L48.05,249.44 L48.10,248.94 L48.12,248.62 L48.15,248.28 L48.17,247.90 L48.19,247.49 L48.22,247.06 L48.24,246.60 L48.27,246.12 L48.29,245.62 L48.31,245.10 L48.34,244.55 L48.36,243.99 L48.39,243.41 L48.41,242.81 L48.44,242.20 L48.46,241.57 L48.48,240.92 L48.51,240.26 L48.53,239.58 L48.56,238.90 L48.58,238.19 L48.60,237.48 L48.63,236.75 L48.65,236.01 L48.68,235.26 L48.70,234.50 L48.73,233.73 L48.75,232.95 L48.77,232.16 L48.80,231.35 L48.82,230.54 L48.85,229.72 L48.87,228.89 L48.90,228.06 L48.92,227.21 L48.94,226.36 L48.97,225.50 L48.99,224.63 L49.02,223.76 L49.04,222.88 L49.06,221.99 L49.09,221.10 L49.11,220.20 L49.14,219.30 L49.16,218.39 L49.19,217.47 L49.21,216.55 L49.23,215.63 L49.26,214.70 L49.28,213.77 L49.31,212.83 L49.33,211.89 L49.35,210.94 L49.38,209.99 L49.40,209.04 L49.43,208.09 L49.45,207.13 L49.48,206.17 L49.50,205.21 L49.52,204.24 L49.55,203.27 L49.57,202.31 L49.60,201.33 L49.62,200.36 L49.65,199.39 L49.67,198.41 L49.69,197.43 L49.72,196.46 L49.74,195.48 L49.77,194.50 L49.79,193.52 L49.81,192.53 L49.84,191.55 L49.86,190.57 L49.89,189.59 L49.91,188.61 L49.94,187.63 L49.96,186.64 L49.98,185.66 L50.01,184.68 L50.03,183.70 L50.06,182.72 L50.08,181.74 L50.11,180.77 L50.13,179.79 L50.15,178.82 L50.18,177.84 L50.20,176.87 L50.23,175.90 L50.25,174.93 L50.27,173.96 L50.30,172.99 L50.32,172.03 L50.35,171.07 L50.37,170.11 L50.40,169.15 L50.42,168.19 L50.44,167.24 L50.47,166.29 L50.49,165.34 L50.52,164.39 L50.54,163.45 L50.56,162.51 L50.59,161.57 L50.61,160.63 L50.64,159.70 L50.66,158.77 L50.69,157.84 L50.71,156.92 L50.73,156.00 L50.76,155.08 L50.78,154.17 L50.81,153.26 L50.83,152.35 L50.86,151.44 L50.88,150.54 L50.90,149.65 L50.93,148.75 L50.95,147.86 L50.98,146.98 L51.00,146.09 L51.02,145.21 L51.05,144.34 L51.07,143.47 L51.10,142.60 L51.12,141.74 L51.15,140.88 L51.17,140.02 L51.19,139.17 L51.22,138.33 L51.24,137.48 L51.27,136.64 L51.29,135.81 L51.31,134.98 L51.34,134.15 L51.36,133.33 L51.39,132.51 L51.41,131.70 L51.44,130.89 L51.46,130.09 L51.48,129.29 L51.51,128.49 L51.53,127.70 L51.56,126.91 L51.58,126.13 L51.61,125.35 L51.63,124.58 L51.65,123.81 L51.68,123.05 L51.70,122.29 L51.73,121.53 L51.75,120.78 L51.77,120.04 L51.80,119.29 L51.82,118.56 L51.85,117.83 L51.87,117.10 L51.90,116.38 L51.92,115.66 L51.94,114.95 L51.97,114.24 L51.99,113.53 L52.02,112.83 L52.04,112.14 L52.06,111.45 L52.09,110.76 L52.11,110.08 L52.14,109.41 L52.16,108.74 L52.19,108.07 L52.21,107.41 L52.23,106.75 L52.26,106.10 L52.28,105.45 L52.31,104.81 L52.33,104.17 L52.36,103.54 L52.38,102.91 L52.40,102.28 L52.43,101.66 L52.45,101.05 L52.48,100.44 L52.50,99.83 L52.52,99.23 L52.55,98.63 L52.57,98.04 L52.60,97.45 L52.62,96.87 L52.65,96.29 L52.67,95.72 L52.69,95.15 L52.72,94.59 L52.74,94.03 L52.77,93.47 L52.79,92.92 L52.81,92.37 L53.11,86.06 L53.41,80.38 L53.70,75.30 L54.00,70.79 L54.29,66.79 L54.59,63.27 L54.88,60.19 L55.18,57.50 L55.47,55.16 L55.77,53.14 L56.06,51.40 L56.36,49.91 L56.65,48.64 L56.95,47.55 L57.24,46.63 L57.54,45.85 L57.83,45.20 L58.13,44.65 L58.43,44.19 L58.72,43.81 L59.02,43.49 L59.31,43.23 L59.61,43.01 L59.90,42.83 L60.20,42.69 L60.49,42.57 L60.79,42.47 L61.08,42.39 L61.38,42.32 L61.67,42.27 L61.97,42.23 L62.26,42.20 L62.56,42.17 L62.85,42.15 L63.15,42.13 L63.45,42.12 L63.74,42.11 L64.04,42.10 L64.33,42.09 L64.63,42.09 L65.22,42.08 L65.81,42.07 L66.40,42.07 L66.99,42.07 L67.58,42.07 L68.17,42.07 L68.76,42.07 L69.35,42.07 L69.94,42.07 L70.53,42.07 L71.12,42.07 L71.71,42.07 L72.30,42.07 L72.89,42.07 L73.49,42.07 L74.08,42.07 L74.67,42.07 L75.26,42.07 L75.85,42.07 L76.44,42.07 L77.03,42.07 L77.62,42.07 L78.21,42.07 L78.80,42.07 L79.39,42.07 L79.98,42.07 L80.57,42.07 L81.16,42.07 L81.75,42.07 L82.34,42.07 L82.93,42.07 L83.52,42.07 L84.12,42.07 L84.71,42.07 L85.30,42.07 L85.89,42.07 L86.48,42.07 L87.07,42.07 L87.66,42.07 L88.25,42.07 L88.84,42.07 L89.43,42.07 L90.02,42.07 L90.61,42.07 L91.20,42.07 L91.79,42.07 L92.38,42.07 L92.97,42.07 L93.56,42.07 L94.16,42.07 L94.75,42.07 L95.34,42.07 L95.93,42.07 L96.52,42.07 L97.11,42.07 L97.70,42.07 L98.29,42.07 L98.88,42.07 L99.47,42.07 L100.06,42.07 L100.65,42.07 L101.24,42.07 L101.83,42.07 L102.42,42.07 L103.01,42.07 L103.60,42.07 L104.20,42.07 L104.79,42.07 L105.38,42.07 L105.97,42.07 L106.56,42.07 L107.15,42.07 L107.74,42.07 L108.33,42.07 L108.92,42.07 L109.51,42.07 L110.10,42.07 L110.69,42.07 L111.28,42.07 L111.87,42.07 L112.46,42.07 L113.05,42.07 L113.64,42.07 L114.23,42.07 L114.83,42.07 L115.42,42.07 L116.01,42.07 L116.60,42.07 L117.19,42.07 L117.78,42.07 L118.37,42.07 L118.96,42.07 L119.55,42.07 L120.14,42.07 L120.73,42.07 L121.32,42.07 L121.91,42.07 L122.50,42.07 L123.09,42.07 L123.68,42.07 L124.27,42.07 L124.87,42.07 L125.46,42.07 L126.05,42.07 L126.64,42.07 L127.23,42.07 L127.82,42.07 L128.41,42.07 L129.00,42.07 L129.59,42.07 L130.18,42.07 L130.77,42.07 L131.36,42.07 L131.95,42.07 L132.54,42.07 L133.13,42.07 L133.72,42.07 L134.31,42.07 L134.91,42.07 L135.50,42.07 L136.09,42.07 L136.68,42.07 L137.27,42.07 L137.86,42.07 L138.45,42.07 L139.04,42.07 L139.63,42.07 L140.22,42.07 L140.81,42.07 L141.40,42.07 L141.99,42.07 L142.58,42.07 L143.17,42.07 L143.76,42.07 L144.35,42.07 L144.94,42.07 L145.54,42.07 L146.13,42.07 L146.72,42.07 L147.31,42.07 L147.90,42.07 L148.49,42.07 L149.08,42.07 L149.67,42.07 L150.26,42.07 L150.85,42.07 L151.44,42.07 L152.03,42.07 L152.62,42.07 L153.21,42.07 L153.80,42.07 L154.39,42.07 L154.98,42.07 L155.58,42.07 L156.17,42.07 L156.76,42.07 L157.35,42.07 L157.94,42.07 L158.53,42.07 L159.12,42.07 L159.71,42.07 L160.30,42.07 L160.89,42.07 L161.48,42.07 L162.07,42.07 L162.66,42.07 L163.25,42.07 L163.84,42.07 L164.43,42.07 L165.02,42.07 L165.61,42.07 L166.21,42.07 L166.80,42.07 L167.39,42.07 L167.98,42.07 L168.57,42.07 L169.16,42.07 L169.75,42.07 L170.34,42.07 L170.93,42.07 L171.52,42.07 L172.11,42.07 L172.70,42.07 L173.29,42.07 L173.88,42.07 L174.47,42.07 L175.06,42.07 L175.65,42.07 L176.25,42.07 L176.84,42.07 L177.43,42.07 L178.02,42.07 L178.61,42.07 L179.20,42.07 L179.79,42.07 L180.38,42.07 L180.97,42.07 L181.56,42.07 L182.15,42.07 L182.74,42.07 L183.33,42.07 L183.92,42.07 L184.51,42.07 L185.10,42.07 L185.69,42.07 L186.29,42.07 L186.88,42.07 L187.47,42.07 L188.06,42.07 L188.65,42.07 L189.24,42.07 L189.83,42.07 L190.42,42.07 L191.01,42.07 L191.60,42.07 L192.19,42.07 L192.78,42.07 L193.37,42.07 L193.96,42.07 L194.55,42.07 L195.14,42.07 L195.73,42.07 L196.32,42.07 L196.92,42.07 L197.51,42.07 L198.10,42.07 L198.69,42.07 L199.28,42.07 L199.87,42.07 L200.46,42.07 L201.05,42.07 L201.64,42.07 L202.23,42.07 L202.82,42.07 L203.41,42.07 L204.00,42.07 L204.59,42.07 L205.18,42.07 L205.77,42.07 L206.36,42.07 L206.96,42.07 L207.55,42.07 L208.14,42.07 L208.73,42.07 L209.32,42.07 L209.91,42.07 L210.50,42.07 L211.09,42.07 L211.68,42.07 L212.27,42.07 L212.86,42.07 L213.45,42.07 L214.04,42.07 L214.63,42.07 L215.22,42.07 L215.81,42.07 L216.40,42.07 L217.00,42.07 L217.59,42.07 L218.18,42.07 L218.77,42.07 L219.36,42.07 L219.95,42.07 L220.54,42.07 L221.13,42.07 L221.72,42.07 L222.31,42.07 L222.90,42.07 L223.49,42.07 L224.08,42.07 L224.67,42.07 L225.26,42.07 L225.85,42.07 L226.44,42.07 L227.03,42.07 L227.63,42.07 L228.22,42.07 L228.81,42.07 L229.40,42.07 L229.99,42.07 L230.58,42.07 L231.17,42.07 L231.76,42.07 L232.35,42.07 L232.94,42.07 L233.53,42.07 L234.12,42.07 L234.71,42.07 L235.30,42.07 L235.89,42.07 L236.48,42.07 L237.07,42.07 L237.67,42.07 L238.26,42.07 L238.85,42.07 L239.44,42.07 L240.03,42.07 L240.62,42.07 L241.21,42.07 L241.80,42.07 L242.39,42.07 L242.98,42.07 L243.57,42.07 L244.16,42.07 L244.75,42.07 L245.34,42.07 L245.93,42.07 L246.52,42.07 L247.11,42.07 L247.70,42.07 L248.30,42.07 L248.89,42.07 L249.48,42.07 L250.07,42.07 L250.66,42.07 L251.25,42.07 L251.84,42.07 L252.43,42.07 L253.02,42.07 L253.61,42.07 L254.20,42.07 L254.79,42.07 L255.38,42.07 L255.97,42.07 L256.56,42.07 L257.15,42.07 L257.74,42.07 L258.34,42.07 L258.93,42.07 L259.52,42.07 L260.11,42.07 L260.70,42.07 L261.29,42.07 L261.88,42.07 L262.47,42.07 L263.06,42.07 L263.65,42.07 L264.24,42.07 L264.83,42.07 L265.42,42.07 L266.01,42.07 L266.60,42.07 L267.19,42.07 L267.78,42.07 L268.38,42.07 L268.97,42.07 L269.56,42.07 L270.15,42.07 L270.74,42.07 L271.33,42.07 L271.92,42.07 L272.51,42.07 L273.10,42.07 L273.69,42.07 L274.28,42.07 L274.87,42.07 L275.46,42.07 L276.05,42.07 L276.64,42.07 L277.23,42.07 L277.82,42.07 L278.41,42.07 L279.01,42.07 L279.60,42.07 L280.19,42.07 L280.78,42.07 L281.37,42.07 L281.96,42.07 L282.55,42.07 L283.14,42.07 L283.73,42.07 L284.32,42.07 L284.91,42.07 L285.50,42.07 L286.09,42.07 L286.68,42.07 L287.27,42.07 L287.86,42.07 L288.45,42.07 L288.80,42.16 L288.89,42.57 L288.94,42.85 L288.99,43.17 L289.04,43.53 L289.09,43.92 L289.14,44.34 L289.18,44.79 L289.23,45.26 L289.28,45.75 L289.33,46.26 L289.38,46.80 L289.43,47.35 L289.47,47.92 L289.52,48.50 L289.57,49.09 L289.62,49.70 L289.67,50.32 L289.72,50.95 L289.76,51.59 L289.81,52.23 L289.86,52.88 L289.91,53.54 L289.96,54.21 L290.01,54.88 L290.05,55.55 L290.10,56.22 L290.15,56.90 L290.20,57.58 L290.25,58.26 L290.30,58.94 L290.34,59.62 L290.39,60.30 L290.44,60.97 L290.49,61.65 L290.54,62.32 L290.59,62.99 L290.63,63.66 L290.68,64.32 L290.73,64.98 L290.78,65.63 L290.83,66.28 L290.88,66.92 L290.92,67.56 L290.97,68.19 L291.02,68.82 L291.07,69.43 L291.12,70.05 L291.17,70.65 L291.21,71.25 L291.26,71.84 L291.31,72.42 L291.36,73.00 L291.41,73.56 L291.46,74.12 L291.50,74.67 L291.55,75.21 L291.60,75.75 L291.65,76.27 L291.70,76.79 L291.75,77.30 L291.79,77.80 L291.84,78.29 L291.89,78.77 L291.94,79.25 L291.99,79.71 L292.04,80.17 L292.08,80.62 L292.13,81.06 L292.18,81.49 L292.23,81.91 L292.28,82.32 L292.33,82.72 L292.37,83.12 L292.42,83.51 L292.47,83.89 L292.52,84.26 L292.57,84.62 L292.61,84.97 L292.66,85.32 L292.71,85.66 L292.76,85.99 L292.81,86.31 L292.86,86.62 L292.90,86.93 L292.95,87.23 L293.00,87.52 L293.05,87.81 L293.10,88.08 L293.15,88.35 L293.19,88.62 L293.24,88.87 L293.34,89.37 L293.44,89.83 L293.53,90.27 L293.63,90.69 L293.73,91.08 L293.82,91.45 L293.92,91.80 L294.02,92.13 L294.11,92.44 L294.21,92.73 L294.31,93.00 L294.40,93.26 L294.50,93.50 L294.60,93.72 L294.69,93.93 L294.84,94.22 L294.98,94.48 L295.13,94.71 L295.27,94.92 L295.42,95.11 L295.56,95.28 L295.76,95.48 L295.95,95.65 L296.14,95.80 L296.33,95.92 L296.58,96.05 L296.82,96.15 L297.06,96.24 L297.30,96.31 L297.59,96.37 L297.88,96.42 L298.17,96.46 L298.46,96.49 L298.75,96.51 L299.04,96.52 L299.33,96.54 L299.67,96.54 L300.01,96.55 L300.34,96.56 L300.68,96.56 L301.02,96.56 L301.36,96.56 L301.70,96.56 L302.04,96.57 L302.37,96.57 L302.71,96.57 L303.05,96.57 L305.48,96.57 L307.77,96.57 L310.05,96.57 L312.34,96.57 L314.62,96.57 L316.91,96.57 L319.20,96.57 L321.48,96.57 L323.77,96.57 L326.05,96.57 L328.34,96.57 L330.63,96.57 L332.91,96.57 L335.20,96.57 L337.48,96.57 L339.77,96.57 L342.06,96.57 L344.34,96.57 L346.63,96.57 L348.91,96.57 L351.20,96.57 L353.49,96.57 L355.77,96.57 L358.06,96.57 L360.34,96.57 L362.63,96.57 L364.91,96.57 L367.20,96.57 L369.49,96.57 L371.77,96.57 L374.06,96.57 L376.34,96.57 L378.63,96.57 L380.92,96.57 L383.20,96.57 L385.49,96.57 L387.77,96.57 L390.06,96.57 L392.35,96.57 L394.63,96.57 L396.92,96.57 L399.20,96.57 L401.49,96.57 L403.77,96.57 L406.06,96.57 L408.35,96.57 L410.63,96.57 L412.92,96.57 L415.20,96.57 L417.49,96.57 L419.78,96.57 L422.06,96.57 L424.35,96.57 L426.63,96.57 L428.92,96.57 L431.21,96.57 L433.49,96.57 L435.78,96.57 L438.06,96.57 L440.35,96.57 L442.64,96.57 L444.92,96.57 L447.21,96.57 L449.49,96.57 L451.78,96.57 L454.06,96.57 L456.35,96.57 L458.64,96.57 L460.92,96.57 L463.21,96.57 L465.49,96.57 L467.78,96.57 L470.07,96.57 L472.35,96.57 L474.64,96.57 L476.92,96.57 L479.21,96.57 L481.50,96.57 L483.78,96.57 L486.07,96.57 L488.35,96.57 L490.64,96.57 L492.93,96.57 L495.21,96.57 L497.50,96.57 L499.78,96.57 L502.07,96.57 L504.36,96.57 L506.64,96.57 L508.93,96.57 L511.21,96.57 L513.50,96.57 L515.78,96.57 L518.07,96.57 L520.36,96.57 L522.64,96.57 L524.93,96.57 L527.21,96.57 L529.50,96.57" stroke="#22ee22" stroke-width="2"/><path d="M48.00,409.54 L48.07,405.05 L48.15,400.89 L48.22,396.88 L48.29,392.97 L48.36,389.15 L48.44,385.41 L48.51,381.73 L48.58,378.12 L48.65,374.57 L48.73,371.07 L48.80,367.63 L48.87,364.23 L48.94,360.89 L49.02,357.59 L49.09,354.34 L49.16,351.13 L49.23,347.96 L49.31,344.83 L49.38,341.75 L49.45,338.70 L49.52,335.69 L49.60,332.72 L49.67,329.78 L49.74,326.88 L49.81,324.01 L49.89,321.18 L49.96,318.38 L50.03,315.62 L50.11,312.88 L50.18,310.18 L50.25,307.51 L50.32,304.87 L50.40,302.26 L50.47,299.68 L50.54,297.13 L50.61,294.61 L50.69,292.12 L50.76,289.65 L50.83,287.21 L50.90,284.80 L50.98,282.41 L51.05,280.06 L51.12,277.72 L51.19,275.41 L51.27,273.13 L51.34,270.87 L51.41,268.64 L51.48,266.43 L51.56,264.24 L51.63,262.08 L51.70,259.94 L51.77,257.83 L51.85,255.73 L51.92,253.66 L51.99,251.61 L52.06,249.58 L52.14,247.57 L52.21,245.59 L52.28,243.62 L52.36,241.68 L52.43,239.75 L52.50,237.85 L52.57,235.97 L52.65,234.10 L52.72,232.26 L52.79,230.43 L52.86,228.62 L52.94,226.83 L53.01,225.06 L53.08,223.31 L53.15,221.58 L53.23,219.86 L53.30,218.16 L53.37,216.48 L53.44,214.82 L53.52,213.17 L53.59,211.54 L53.66,209.93 L53.73,208.33 L53.81,206.75 L53.88,205.18 L53.95,203.63 L54.02,202.10 L54.10,200.58 L54.17,199.08 L54.24,197.59 L54.32,196.12 L54.39,194.66 L54.46,193.22 L54.53,191.79 L54.61,190.37 L54.68,188.97 L54.75,187.58 L54.82,186.21 L54.90,184.85 L54.97,183.51 L55.04,182.18 L55.11,180.86 L55.19,179.55 L55.26,178.26 L55.33,176.98 L55.40,175.71 L55.48,174.46 L55.55,173.22 L55.62,171.99 L55.69,170.77 L55.77,169.56 L55.84,168.37 L55.91,167.19 L55.98,166.02 L56.06,164.86 L56.13,163.71 L56.20,162.57 L56.28,161.45 L56.35,160.33 L56.42,159.23 L56.49,158.14 L56.57,157.06 L56.64,155.99 L56.71,154.92 L56.78,153.87 L56.86,152.83 L56.93,151.80 L57.00,150.78 L57.07,149.77 L57.15,148.77 L57.22,147.78 L57.29,146.80 L57.36,145.83 L57.44,144.87 L57.51,143.92 L57.58,142.97 L57.65,142.04 L57.73,141.12 L57.80,140.20 L57.87,139.29 L57.94,138.39 L58.02,137.50 L58.09,136.62 L58.16,135.75 L58.23,134.89 L58.31,134.03 L58.38,133.18 L58.45,132.34 L58.53,131.51 L58.60,130.69 L58.67,129.87 L58.74,129.06 L58.82,128.26 L58.89,127.47 L58.96,126.69 L59.03,125.91 L59.11,125.14 L59.18,124.38 L59.25,123.62 L59.32,122.88 L59.40,122.13 L59.47,121.40 L59.54,120.67 L59.61,119.96 L59.69,119.24 L59.76,118.54 L59.83,117.84 L59.90,117.14 L59.98,116.46 L60.05,115.78 L60.12,115.11 L60.19,114.44 L60.27,113.78 L60.34,113.13 L60.41,112.48 L60.49,111.84 L60.56,111.20 L60.63,110.57 L60.70,109.95 L60.78,109.33 L60.85,108.72 L60.92,108.11 L60.99,107.51 L61.07,106.92 L61.14,106.33 L61.21,105.75 L61.28,105.17 L61.36,104.60 L61.43,104.03 L61.50,103.47 L61.57,102.91 L61.65,102.36 L61.72,101.81 L61.79,101.27 L61.86,100.74 L61.94,100.21 L62.01,99.68 L62.08,99.16 L62.15,98.65 L62.23,98.13 L62.30,97.63 L62.37,97.13 L62.45,96.63 L62.73,94.74 L63.01,92.91 L63.29,91.15 L63.58,89.46 L63.86,87.82 L64.14,86.25 L64.43,84.73 L64.71,83.26 L64.99,81.85 L65.28,80.49 L65.56,79.18 L65.84,77.91 L66.13,76.69 L66.41,75.51 L66.69,74.37 L66.98,73.28 L67.26,72.22 L67.54,71.20 L67.83,70.22 L68.11,69.27 L68.39,68.36 L68.68,67.48 L68.96,66.63 L69.24,65.81 L69.53,65.01 L69.81,64.25 L70.09,63.51 L70.38,62.80 L70.66,62.12 L70.94,61.45 L71.23,60.81 L71.51,60.20 L71.79,59.60 L72.08,59.03 L72.36,58.48 L72.64,57.94 L72.92,57.43 L73.21,56.93 L73.49,56.45 L73.77,55.98 L74.06,55.54 L74.34,55.10 L74.62,54.69 L74.91,54.29 L75.19,53.90 L75.47,53.52 L75.76,53.16 L76.04,52.81 L76.32,52.47 L76.61,52.15 L76.89,51.83 L77.17,51.53 L77.46,51.24 L77.74,50.96 L78.02,50.68 L78.31,50.42 L78.59,50.17 L78.87,49.92 L79.16,49.68 L79.44,49.45 L79.72,49.23 L80.01,49.02 L80.29,48.81 L80.57,48.61 L80.86,48.42 L81.14,48.24 L81.42,48.06 L81.70,47.89 L81.99,47.72 L82.27,47.56 L82.55,47.40 L82.84,47.25 L83.12,47.11 L83.40,46.97 L83.69,46.83 L83.97,46.70 L84.25,46.57 L84.54,46.45 L84.82,46.33 L85.10,46.22 L85.39,46.11 L85.67,46.00 L85.95,45.90 L86.24,45.80 L86.52,45.71 L86.80,45.61 L87.09,45.52 L87.37,45.44 L87.65,45.35 L87.94,45.27 L88.22,45.20 L88.50,45.12 L88.79,45.05 L89.07,44.98 L89.35,44.91 L89.64,44.84 L89.92,44.78 L90.20,44.72 L90.49,44.66 L90.77,44.60 L91.05,44.55 L91.34,44.50 L91.62,44.45 L91.90,44.40 L92.18,44.35 L92.47,44.30 L92.75,44.26 L93.03,44.21 L93.32,44.17 L93.60,44.13 L93.88,44.09 L94.17,44.05 L94.45,44.02 L94.73,43.98 L95.02,43.95 L95.30,43.92 L95.58,43.88 L95.87,43.85 L96.15,43.82 L96.43,43.80 L96.72,43.77 L97.00,43.74 L97.28,43.72 L97.57,43.69 L97.85,43.67 L98.13,43.64 L98.42,43.62 L98.70,43.60 L98.98,43.58 L99.27,43.56 L99.55,43.54 L99.83,43.52 L100.12,43.50 L100.40,43.48 L100.68,43.46 L101.25,43.43 L101.81,43.40 L102.38,43.37 L102.95,43.35 L103.51,43.32 L104.08,43.30 L104.65,43.28 L105.21,43.26 L105.78,43.24 L106.35,43.22 L106.91,43.20 L107.48,43.19 L108.05,43.17 L108.61,43.16 L109.18,43.15 L109.75,43.14 L110.31,43.13 L110.88,43.11 L111.44,43.11 L112.01,43.10 L112.58,43.09 L113.14,43.08 L113.71,43.07 L114.28,43.07 L114.84,43.06 L115.41,43.05 L115.98,43.05 L116.54,43.04 L117.11,43.04 L117.68,43.03 L118.24,43.03 L118.81,43.02 L119.38,43.02 L119.94,43.02 L120.51,43.01 L121.07,43.01 L121.64,43.01 L122.21,43.01 L122.77,43.00 L123.34,43.00 L123.91,43.00 L124.47,43.00 L125.04,42.99 L125.61,42.99 L126.17,42.99 L126.74,42.99 L127.31,42.99 L127.87,42.99 L128.44,42.99 L129.01,42.98 L129.57,42.98 L130.14,42.98 L130.70,42.98 L131.27,42.98 L131.84,42.98 L132.40,42.98 L132.97,42.98 L133.54,42.98 L134.10,42.98 L134.67,42.98 L135.24,42.98 L135.80,42.97 L136.37,42.97 L136.94,42.97 L137.50,42.97 L138.07,42.97 L138.64,42.97 L139.20,42.97 L139.77,42.97 L140.33,42.97 L140.90,42.97 L141.47,42.97 L142.03,42.97 L142.60,42.97 L143.17,42.97 L143.73,42.97 L144.30,42.97 L144.87,42.97 L145.43,42.97 L146.00,42.97 L146.57,42.97 L147.13,42.97 L147.70,42.97 L148.27,42.97 L148.83,42.97 L149.40,42.97 L149.96,42.97 L150.53,42.97 L151.10,42.97 L151.66,42.97 L152.23,42.97 L152.80,42.97 L153.36,42.97 L153.93,42.97 L154.50,42.97 L155.06,42.97 L155.63,42.97 L156.20,42.97 L156.76,42.97 L157.33,42.97 L157.90,42.97 L158.46,42.97 L159.03,42.97 L159.59,42.97 L160.16,42.97 L160.73,42.97 L161.29,42.97 L161.86,42.97 L162.43,42.97 L162.99,42.97 L163.56,42.97 L164.13,42.97 L164.69,42.97 L165.26,42.97 L165.83,42.97 L166.39,42.97 L166.96,42.97 L167.53,42.97 L168.09,42.97 L168.66,42.97 L169.22,42.97 L169.79,42.97 L170.36,42.97 L170.92,42.97 L171.49,42.97 L172.06,42.97 L172.62,42.97 L173.19,42.97 L173.76,42.97 L174.32,42.97 L174.89,42.97 L175.46,42.97 L176.02,42.97 L176.59,42.97 L177.16,42.97 L177.72,42.97 L178.29,42.97 L178.85,42.97 L179.42,42.97 L179.99,42.97 L180.55,42.97 L181.12,42.97 L181.69,42.97 L182.25,42.97 L182.82,42.97 L183.39,42.97 L183.95,42.97 L184.52,42.97 L185.09,42.97 L185.65,42.97 L186.22,42.97 L186.79,42.97 L187.35,42.97 L187.92,42.97 L188.48,42.97 L189.05,42.97 L189.62,42.97 L190.18,42.97 L190.75,42.97 L191.32,42.97 L191.88,42.97 L192.45,42.97 L193.02,42.97 L193.58,42.97 L194.15,42.97 L194.72,42.97 L195.28,42.97 L195.85,42.97 L196.42,42.97 L196.98,42.97 L197.55,42.97 L198.11,42.97 L198.68,42.97 L199.25,42.97 L199.81,42.97 L200.38,42.97 L200.95,42.97 L201.51,42.97 L202.08,42.97 L202.65,42.97 L203.21,42.97 L203.78,42.97 L204.35,42.97 L204.91,42.97 L205.48,42.97 L206.05,42.97 L206.61,42.97 L207.18,42.97 L207.74,42.97 L208.31,42.97 L208.88,42.97 L209.44,42.97 L210.01,42.97 L210.58,42.97 L211.14,42.97 L211.71,42.97 L212.28,42.97 L212.84,42.97 L213.41,42.97 L213.98,42.97 L214.54,42.97 L215.11,42.97 L215.68,42.97 L216.24,42.97 L216.81,42.97 L217.37,42.97 L217.94,42.97 L218.51,42.97 L219.07,42.97 L219.64,42.97 L220.21,42.97 L220.77,42.97 L221.34,42.97 L221.91,42.97 L222.47,42.97 L223.04,42.97 L223.61,42.97 L224.17,42.97 L224.74,42.97 L225.31,42.97 L225.87,42.97 L226.44,42.97 L227.00,42.97 L227.57,42.97 L228.14,42.97 L228.70,42.97 L229.27,42.97 L229.84,42.97 L230.40,42.97 L230.97,42.97 L231.54,42.97 L232.10,42.97 L232.67,42.97 L233.24,42.97 L233.80,42.97 L234.37,42.97 L234.94,42.97 L235.50,42.97 L236.07,42.97 L236.63,42.97 L237.20,42.97 L237.77,42.97 L238.33,42.97 L238.90,42.97 L239.47,42.97 L240.03,42.97 L240.60,42.97 L241.17,42.97 L241.73,42.97 L242.30,42.97 L242.87,42.97 L243.43,42.97 L244.00,42.97 L244.57,42.97 L245.13,42.97 L245.70,42.97 L246.26,42.97 L246.83,42.97 L247.40,42.97 L247.96,42.97 L248.53,42.97 L249.10,42.97 L249.66,42.97 L250.23,42.97 L250.80,42.97 L251.36,42.97 L251.93,42.97 L252.50,42.97 L253.06,42.97 L253.63,42.97 L254.20,42.97 L254.76,42.97 L255.33,42.97 L255.89,42.97 L256.46,42.97 L257.03,42.97 L257.59,42.97 L258.16,42.97 L258.73,42.97 L259.29,42.97 L259.86,42.97 L260.43,42.97 L260.99,42.97 L261.56,42.97 L262.13,42.97 L262.69,42.97 L263.26,42.97 L263.83,42.97 L264.39,42.97 L264.96,42.97 L265.52,42.97 L266.09,42.97 L266.66,42.97 L267.22,42.97 L267.79,42.97 L268.36,42.97 L268.92,42.97 L269.49,42.97 L270.06,42.97 L270.62,42.97 L271.19,42.97 L271.76,42.97 L272.32,42.97 L272.89,42.97 L273.46,42.97 L274.02,42.97 L274.59,42.97 L275.15,42.97 L275.72,42.97 L276.29,42.97 L276.85,42.97 L277.42,42.97 L277.99,42.97 L278.55,42.97 L279.12,42.97 L279.69,42.97 L280.25,42.97 L280.82,42.97 L281.39,42.97 L281.95,42.97 L282.52,42.97 L283.09,42.97 L283.65,42.97 L284.22,42.97 L284.78,42.97 L285.35,42.97 L285.92,42.97 L286.48,42.97 L287.05,42.97 L287.62,42.97 L288.18,42.97 L288.75,42.97 L288.93,43.67 L289.11,44.48 L289.29,45.33 L289.47,46.20 L289.66,47.09 L289.84,47.98 L290.02,48.87 L290.20,49.76 L290.38,50.65 L290.56,51.53 L290.74,52.41 L290.92,53.28 L291.10,54.14 L291.28,54.99 L291.47,55.83 L291.65,56.67 L291.83,57.49 L292.01,58.30 L292.19,59.10 L292.37,59.89 L292.55,60.67 L292.73,61.43 L292.91,62.19 L293.09,62.93 L293.28,63.66 L293.46,64.38 L293.64,65.08 L293.82,65.78 L294.00,66.46 L294.18,67.13 L294.36,67.79 L294.54,68.43 L294.72,69.07 L294.90,69.69 L295.09,70.30 L295.27,70.90 L295.45,71.49 L295.63,72.07 L295.81,72.64 L295.99,73.19 L296.17,73.74 L296.35,74.27 L296.53,74.80 L296.71,75.31 L296.90,75.81 L297.08,76.31 L297.26,76.79 L297.44,77.26 L297.62,77.73 L297.80,78.18 L297.98,78.62 L298.16,79.06 L298.34,79.49 L298.52,79.90 L298.71,80.31 L298.89,80.71 L299.07,81.10 L299.25,81.49 L299.43,81.86 L299.61,82.23 L299.79,82.59 L299.97,82.94 L300.15,83.28 L300.33,83.62 L300.52,83.95 L300.70,84.27 L300.88,84.58 L301.06,84.89 L301.24,85.19 L301.42,85.48 L301.60,85.77 L301.78,86.05 L301.96,86.33 L302.15,86.60 L302.33,86.86 L302.51,87.12 L302.69,87.37 L302.87,87.61 L303.05,87.85 L303.23,88.09 L303.41,88.31 L303.59,88.54 L303.77,88.76 L303.96,88.97 L304.14,89.18 L304.32,89.38 L304.50,89.58 L304.68,89.77 L304.86,89.96 L305.04,90.15 L305.22,90.33 L305.40,90.51 L305.58,90.68 L305.77,90.85 L305.95,91.01 L306.13,91.17 L306.31,91.33 L306.49,91.48 L306.67,91.63 L306.85,91.78 L307.03,91.92 L307.21,92.06 L307.39,92.19 L307.58,92.33 L307.76,92.46 L307.94,92.58 L308.12,92.71 L308.30,92.83 L308.66,93.06 L309.02,93.28 L309.39,93.49 L309.75,93.69 L310.11,93.88 L310.47,94.06 L310.83,94.23 L311.20,94.39 L311.56,94.55 L311.92,94.70 L312.28,94.84 L312.64,94.97 L313.01,95.10 L313.37,95.22 L313.73,95.34 L314.09,95.45 L314.45,95.55 L314.82,95.65 L315.18,95.74 L315.54,95.83 L315.90,95.92 L316.26,96.00 L316.63,96.07 L316.99,96.15 L317.35,96.22 L317.71,96.28 L318.07,96.34 L318.44,96.40 L318.80,96.46 L319.16,96.51 L319.52,96.56 L319.88,96.61 L320.25,96.65 L320.61,96.70 L320.97,96.74 L321.33,96.78 L321.69,96.81 L322.06,96.85 L322.42,96.88 L322.78,96.91 L323.14,96.94 L323.50,96.97 L323.87,97.00 L324.23,97.02 L324.59,97.04 L324.95,97.07 L325.32,97.09 L325.68,97.11 L326.04,97.13 L326.40,97.15 L326.76,97.16 L327.13,97.18 L327.49,97.20 L327.85,97.21 L328.21,97.22 L328.57,97.24 L328.94,97.25 L329.30,97.26 L329.66,97.27 L330.02,97.28 L330.38,97.29 L330.75,97.30 L331.11,97.31 L331.47,97.32 L331.83,97.33 L332.19,97.34 L332.56,97.34 L332.92,97.35 L333.28,97.36 L333.64,97.36 L334.00,97.37 L334.37,97.37 L334.73,97.38 L335.09,97.38 L335.45,97.39 L335.81,97.39 L336.18,97.40 L336.54,97.40 L336.90,97.40 L337.26,97.41 L337.62,97.41 L337.99,97.41 L338.35,97.42 L338.71,97.42 L339.07,97.42 L339.43,97.42 L339.80,97.43 L340.16,97.43 L340.52,97.43 L340.88,97.43 L341.24,97.44 L341.61,97.44 L341.97,97.44 L342.33,97.44 L342.69,97.44 L343.05,97.44 L343.42,97.44 L343.78,97.45 L344.14,97.45 L344.50,97.45 L344.86,97.45 L345.23,97.45 L345.59,97.45 L345.95,97.45 L346.31,97.45 L346.67,97.45 L347.04,97.45 L347.40,97.45 L347.76,97.46 L348.12,97.46 L348.48,97.46 L348.85,97.46 L349.21,97.46 L349.57,97.46 L349.93,97.46 L350.30,97.46 L350.66,97.46 L351.02,97.46 L351.38,97.46 L351.74,97.46 L352.11,97.46 L352.47,97.46 L352.83,97.46 L353.19,97.46 L353.55,97.46 L353.92,97.46 L354.28,97.46 L354.64,97.46 L355.00,97.46 L355.36,97.46 L355.73,97.46 L356.09,97.46 L356.45,97.46 L356.81,97.46 L357.17,97.46 L357.54,97.46 L357.90,97.46 L358.26,97.46 L358.62,97.46 L358.98,97.46 L359.35,97.46 L359.71,97.47 L360.07,97.47 L360.43,97.47 L360.79,97.47 L362.68,97.47 L364.38,97.47 L366.08,97.47 L367.78,97.47 L369.49,97.47 L371.19,97.47 L372.89,97.47 L374.59,97.47 L376.30,97.47 L378.00,97.47 L379.70,97.47 L381.40,97.47 L383.10,97.47 L384.81,97.47 L386.51,97.47 L388.21,97.47 L389.91,97.47 L391.62,97.47 L393.32,97.47 L395.02,97.47 L396.72,97.47 L398.43,97.47 L400.13,97.47 L401.83,97.47 L403.53,97.47 L405.23,97.47 L406.94,97.47 L408.64,97.47 L410.34,97.47 L412.04,97.47 L413.75,97.47 L415.45,97.47 L417.15,97.47 L418.85,97.47 L420.55,97.47 L422.26,97.47 L423.96,97.47 L425.66,97.47 L427.36,97.47 L429.07,97.47 L430.77,97.47 L432.47,97.47 L434.17,97.47 L435.88,97.47 L437.58,97.47 L439.28,97.47 L440.98,97.47 L442.68,97.47 L444.39,97.47 L446.09,97.47 L447.79,97.47 L449.49,97.47 L451.20,97.47 L452.90,97.47 L454.60,97.47 L456.30,97.47 L458.00,97.47 L459.71,97.47 L461.41,97.47 L463.11,97.47 L464.81,97.47 L466.52,97.47 L468.22,97.47 L469.92,97.47 L471.62,97.47 L473.32,97.47 L475.03,97.47 L476.73,97.47 L478.43,97.47 L480.13,97.47 L481.84,97.47 L483.54,97.47 L485.24,97.47 L486.94,97.47 L488.65,97.47 L490.35,97.47 L492.05,97.47 L493.75,97.47 L495.45,97.47 L497.16,97.47 L498.86,97.47 L500.56,97.47 L502.26,97.47 L503.97,97.47 L505.67,97.47 L507.37,97.47 L509.07,97.47 L510.77,97.47 L512.48,97.47 L514.18,97.47 L515.88,97.47 L517.58,97.47 L519.29,97.47 L520.99,97.47 L522.69,97.47 L524.39,97.47 L526.10,97.47 L527.80,97.47 L529.50,97.47" stroke="#2588d4" stroke-width="1.3"/><line x1="528.60" y1="96.37" x2="530.80" y2="96.37" stroke="#ff0000" stroke-width="2.4"/></g>
<text x="48.00" y="204.90" class="tk" text-anchor="middle">0</text>
<text x="96.15" y="204.90" class="tk" text-anchor="middle">200</text>
<text x="144.30" y="204.90" class="tk" text-anchor="middle">400</text>
<text x="192.45" y="204.90" class="tk" text-anchor="middle">600</text>
<text x="240.60" y="204.90" class="tk" text-anchor="middle">800</text>
<text x="288.75" y="204.90" class="tk" text-anchor="middle">1000</text>
<text x="336.90" y="204.90" class="tk" text-anchor="middle">1200</text>
<text x="385.05" y="204.90" class="tk" text-anchor="middle">1400</text>
<text x="433.20" y="204.90" class="tk" text-anchor="middle">1600</text>
<text x="481.35" y="204.90" class="tk" text-anchor="middle">1800</text>
<text x="529.50" y="204.90" class="tk" text-anchor="middle">2000</text>
<text x="43.2" y="174.33" class="tk" text-anchor="end">10</text>
<text x="43.2" y="138.00" class="tk" text-anchor="end">12</text>
<text x="43.2" y="101.67" class="tk" text-anchor="end">14</text>
<text x="43.2" y="65.33" class="tk" text-anchor="end">16</text>
<text x="43.2" y="29.00" class="tk" text-anchor="end">18</text>
<text transform="translate(16.6,105.3) rotate(-90)" class="lb" text-anchor="middle">P<tspan dy="6.1" font-size="9">T</tspan><tspan dy="-6.1" letter-spacing="0.25"> (MPa)</tspan></text>
<text x="289.1" y="224.00" class="lb" text-anchor="middle">Time (Seconds)</text>
<rect x="389.0" y="23.5" width="140.5" height="54.2" fill="#fff" stroke="#1e1e1e" stroke-width="1.1"/>
<line x1="395.8" y1="33.5" x2="434.8" y2="33.5" stroke="#ff0000" stroke-width="2.4" stroke-dasharray="2.2 1.55"/>
<line x1="395.8" y1="48.7" x2="434.8" y2="48.7" stroke="#22ee22" stroke-width="2"/>
<line x1="396.3" y1="66.5" x2="434.0" y2="66.5" stroke="#2588d4" stroke-width="1.3"/>
<text x="436.9" y="38.10" class="lg">Reference</text>
<text x="436.9" y="52.90" class="lg">FOPID based ILC</text>
<text x="436.9" y="68.90" class="lg">H<tspan dx="0.5" dy="7.1" font-size="11.8" fill="#666" stroke="none">∞</tspan><tspan dx="0.5" dy="-7.1">-LQR</tspan></text>
<line x1="96.15" y1="249.5" x2="96.15" y2="413.0" stroke="#dedede" stroke-width="1"/>
<line x1="144.30" y1="249.5" x2="144.30" y2="413.0" stroke="#dedede" stroke-width="1"/>
<line x1="192.45" y1="249.5" x2="192.45" y2="413.0" stroke="#dedede" stroke-width="1"/>
<line x1="240.60" y1="249.5" x2="240.60" y2="413.0" stroke="#dedede" stroke-width="1"/>
<line x1="288.75" y1="249.5" x2="288.75" y2="413.0" stroke="#dedede" stroke-width="1"/>
<line x1="336.90" y1="249.5" x2="336.90" y2="413.0" stroke="#dedede" stroke-width="1"/>
<line x1="385.05" y1="249.5" x2="385.05" y2="413.0" stroke="#dedede" stroke-width="1"/>
<line x1="433.20" y1="249.5" x2="433.20" y2="413.0" stroke="#dedede" stroke-width="1"/>
<line x1="481.35" y1="249.5" x2="481.35" y2="413.0" stroke="#dedede" stroke-width="1"/>
<line x1="48.0" y1="366.29" x2="529.5" y2="366.29" stroke="#dedede" stroke-width="1"/>
<line x1="48.0" y1="319.57" x2="529.5" y2="319.57" stroke="#dedede" stroke-width="1"/>
<line x1="48.0" y1="272.86" x2="529.5" y2="272.86" stroke="#dedede" stroke-width="1"/>
<line x1="48.0" y1="249.0" x2="48.0" y2="413.5" stroke="#1e1e1e" stroke-width="1.1"/>
<line x1="47.5" y1="413.0" x2="530.0" y2="413.0" stroke="#1e1e1e" stroke-width="1.1"/>
<line x1="47.5" y1="249.5" x2="530.0" y2="249.5" stroke="#6a6a6a" stroke-width="1.5"/>
<line x1="529.5" y1="249.0" x2="529.5" y2="413.5" stroke="#6a6a6a" stroke-width="1.5"/>
<line x1="96.15" y1="413.0" x2="96.15" y2="408.2" stroke="#1e1e1e" stroke-width="1.1"/>
<line x1="96.15" y1="249.5" x2="96.15" y2="254.3" stroke="#1e1e1e" stroke-width="1.1"/>
<line x1="144.30" y1="413.0" x2="144.30" y2="408.2" stroke="#1e1e1e" stroke-width="1.1"/>
<line x1="144.30" y1="249.5" x2="144.30" y2="254.3" stroke="#1e1e1e" stroke-width="1.1"/>
<line x1="192.45" y1="413.0" x2="192.45" y2="408.2" stroke="#1e1e1e" stroke-width="1.1"/>
<line x1="192.45" y1="249.5" x2="192.45" y2="254.3" stroke="#1e1e1e" stroke-width="1.1"/>
<line x1="240.60" y1="413.0" x2="240.60" y2="408.2" stroke="#1e1e1e" stroke-width="1.1"/>
<line x1="240.60" y1="249.5" x2="240.60" y2="254.3" stroke="#1e1e1e" stroke-width="1.1"/>
<line x1="288.75" y1="413.0" x2="288.75" y2="408.2" stroke="#1e1e1e" stroke-width="1.1"/>
<line x1="288.75" y1="249.5" x2="288.75" y2="254.3" stroke="#1e1e1e" stroke-width="1.1"/>
<line x1="336.90" y1="413.0" x2="336.90" y2="408.2" stroke="#1e1e1e" stroke-width="1.1"/>
<line x1="336.90" y1="249.5" x2="336.90" y2="254.3" stroke="#1e1e1e" stroke-width="1.1"/>
<line x1="385.05" y1="413.0" x2="385.05" y2="408.2" stroke="#1e1e1e" stroke-width="1.1"/>
<line x1="385.05" y1="249.5" x2="385.05" y2="254.3" stroke="#1e1e1e" stroke-width="1.1"/>
<line x1="433.20" y1="413.0" x2="433.20" y2="408.2" stroke="#1e1e1e" stroke-width="1.1"/>
<line x1="433.20" y1="249.5" x2="433.20" y2="254.3" stroke="#1e1e1e" stroke-width="1.1"/>
<line x1="481.35" y1="413.0" x2="481.35" y2="408.2" stroke="#1e1e1e" stroke-width="1.1"/>
<line x1="481.35" y1="249.5" x2="481.35" y2="254.3" stroke="#1e1e1e" stroke-width="1.1"/>
<line x1="48.0" y1="366.29" x2="52.8" y2="366.29" stroke="#1e1e1e" stroke-width="1.1"/>
<line x1="529.5" y1="366.29" x2="524.7" y2="366.29" stroke="#1e1e1e" stroke-width="1.1"/>
<line x1="48.0" y1="319.57" x2="52.8" y2="319.57" stroke="#1e1e1e" stroke-width="1.1"/>
<line x1="529.5" y1="319.57" x2="524.7" y2="319.57" stroke="#1e1e1e" stroke-width="1.1"/>
<line x1="48.0" y1="272.86" x2="52.8" y2="272.86" stroke="#1e1e1e" stroke-width="1.1"/>
<line x1="529.5" y1="272.86" x2="524.7" y2="272.86" stroke="#1e1e1e" stroke-width="1.1"/>
<g clip-path="url(#c2)" fill="none" stroke-linejoin="round"><path d="M46.9,273.26 L72.08,273.26 L72.08,328.91 L529.5,328.91" stroke="#ff0000" stroke-width="2.4" stroke-dasharray="2.2 1.55"/><path d="M48.00,413.00 L48.12,412.40 L48.18,411.87 L48.24,411.24 L48.30,410.50 L48.36,409.69 L48.42,408.79 L48.48,407.83 L48.54,406.80 L48.60,405.72 L48.66,404.58 L48.72,403.39 L48.78,402.15 L48.84,400.88 L48.91,399.56 L48.97,398.20 L49.03,396.82 L49.09,395.40 L49.15,393.95 L49.21,392.48 L49.27,390.98 L49.33,389.46 L49.39,387.92 L49.45,386.37 L49.51,384.80 L49.57,383.21 L49.63,381.62 L49.69,380.01 L49.75,378.40 L49.81,376.78 L49.87,375.15 L49.93,373.52 L49.99,371.89 L50.05,370.26 L50.11,368.62 L50.17,366.99 L50.23,365.37 L50.29,363.74 L50.35,362.12 L50.41,360.51 L50.47,358.91 L50.53,357.31 L50.59,355.72 L50.65,354.14 L50.72,352.57 L50.78,351.02 L50.84,349.47 L50.90,347.94 L50.96,346.42 L51.02,344.92 L51.08,343.43 L51.14,341.95 L51.20,340.49 L51.26,339.05 L51.32,337.63 L51.38,336.22 L51.44,334.83 L51.50,333.45 L51.56,332.10 L51.62,330.76 L51.68,329.44 L51.74,328.14 L51.80,326.86 L51.86,325.60 L51.92,324.36 L51.98,323.13 L52.04,321.93 L52.10,320.75 L52.16,319.58 L52.22,318.44 L52.28,317.31 L52.34,316.21 L52.40,315.13 L52.47,314.06 L52.53,313.02 L52.59,311.99 L52.65,310.99 L52.71,310.00 L52.77,309.04 L52.83,308.09 L52.89,307.16 L52.95,306.25 L53.01,305.36 L53.07,304.49 L53.13,303.64 L53.19,302.81 L53.25,301.99 L53.31,301.20 L53.37,300.42 L53.43,299.66 L53.49,298.91 L53.55,298.19 L53.61,297.48 L53.67,296.79 L53.73,296.11 L53.79,295.45 L53.85,294.81 L53.91,294.18 L53.97,293.57 L54.03,292.97 L54.09,292.39 L54.15,291.83 L54.21,291.27 L54.28,290.74 L54.34,290.21 L54.40,289.70 L54.46,289.21 L54.52,288.73 L54.58,288.26 L54.64,287.80 L54.70,287.36 L54.76,286.93 L54.82,286.51 L54.88,286.10 L54.94,285.71 L55.00,285.32 L55.06,284.95 L55.12,284.59 L55.18,284.23 L55.24,283.89 L55.30,283.56 L55.36,283.24 L55.42,282.93 L55.48,282.63 L55.54,282.33 L55.60,282.05 L55.66,281.77 L55.72,281.51 L55.78,281.25 L55.84,281.00 L55.90,280.76 L56.02,280.30 L56.15,279.86 L56.27,279.46 L56.39,279.08 L56.51,278.73 L56.63,278.40 L56.75,278.09 L56.87,277.80 L56.99,277.53 L57.11,277.28 L57.23,277.05 L57.35,276.83 L57.47,276.63 L57.59,276.45 L57.77,276.19 L57.96,275.97 L58.14,275.76 L58.32,275.58 L58.50,275.42 L58.68,275.28 L58.86,275.16 L59.10,275.01 L59.34,274.89 L59.58,274.78 L59.83,274.69 L60.07,274.62 L60.31,274.56 L60.61,274.50 L60.91,274.44 L61.21,274.40 L61.52,274.37 L61.82,274.35 L62.12,274.33 L62.42,274.31 L62.72,274.30 L63.02,274.29 L63.33,274.28 L63.63,274.28 L63.93,274.27 L64.23,274.27 L64.53,274.27 L64.83,274.26 L65.14,274.26 L65.44,274.26 L65.74,274.26 L66.04,274.26 L66.34,274.26 L66.64,274.26 L66.95,274.26 L67.25,274.26 L67.55,274.26 L67.85,274.26 L68.15,274.26 L68.45,274.26 L68.76,274.26 L69.06,274.26 L69.36,274.26 L69.66,274.26 L69.96,274.26 L70.26,274.26 L70.57,274.26 L70.87,274.26 L71.17,274.26 L71.47,274.26 L71.77,274.26 L72.08,274.26 L72.40,276.07 L72.48,277.81 L72.56,279.49 L72.64,281.12 L72.72,282.69 L72.80,284.21 L72.88,285.68 L72.96,287.10 L73.04,288.48 L73.12,289.81 L73.20,291.09 L73.28,292.34 L73.36,293.54 L73.44,294.71 L73.52,295.83 L73.60,296.92 L73.69,297.97 L73.77,298.99 L73.85,299.97 L73.93,300.92 L74.01,301.85 L74.09,302.74 L74.17,303.60 L74.25,304.43 L74.33,305.24 L74.41,306.01 L74.49,306.77 L74.57,307.50 L74.65,308.20 L74.73,308.88 L74.81,309.54 L74.89,310.18 L74.97,310.79 L75.05,311.39 L75.13,311.97 L75.22,312.52 L75.30,313.06 L75.38,313.58 L75.46,314.09 L75.54,314.58 L75.62,315.05 L75.70,315.50 L75.78,315.94 L75.86,316.37 L75.94,316.78 L76.02,317.18 L76.10,317.57 L76.18,317.94 L76.26,318.30 L76.34,318.65 L76.42,318.99 L76.50,319.32 L76.58,319.63 L76.66,319.94 L76.75,320.23 L76.83,320.52 L76.91,320.79 L76.99,321.06 L77.07,321.32 L77.15,321.57 L77.23,321.81 L77.31,322.04 L77.39,322.27 L77.55,322.70 L77.71,323.10 L77.87,323.48 L78.03,323.83 L78.19,324.16 L78.36,324.47 L78.52,324.75 L78.68,325.02 L78.84,325.28 L79.00,325.51 L79.16,325.73 L79.32,325.94 L79.48,326.13 L79.64,326.31 L79.80,326.48 L79.97,326.64 L80.13,326.78 L80.37,326.99 L80.61,327.17 L80.85,327.34 L81.09,327.49 L81.33,327.62 L81.58,327.75 L81.82,327.86 L82.06,327.96 L82.30,328.05 L82.54,328.13 L82.78,328.21 L83.03,328.28 L83.27,328.34 L83.59,328.41 L83.91,328.47 L84.23,328.53 L84.56,328.58 L84.88,328.62 L85.20,328.66 L85.52,328.69 L85.84,328.72 L86.17,328.74 L86.49,328.76 L86.81,328.78 L87.13,328.80 L87.45,328.81 L87.78,328.83 L88.10,328.84 L88.42,328.85 L88.74,328.85 L89.06,328.86 L89.39,328.87 L89.71,328.87 L90.03,328.88 L90.35,328.88 L90.67,328.89 L91.00,328.89 L91.32,328.89 L91.64,328.90 L91.96,328.90 L92.29,328.90 L92.61,328.90 L92.93,328.90 L93.25,328.91 L93.57,328.91 L93.90,328.91 L94.22,328.91 L94.54,328.91 L94.86,328.91 L95.18,328.91 L95.51,328.91 L95.83,328.91 L96.15,328.91 L104.99,328.91 L113.84,328.91 L122.68,328.91 L131.53,328.91 L140.37,328.91 L149.21,328.91 L158.06,328.91 L166.90,328.91 L175.74,328.91 L184.59,328.91 L193.43,328.91 L202.28,328.91 L211.12,328.91 L219.96,328.91 L228.81,328.91 L237.65,328.91 L246.50,328.91 L255.34,328.91 L264.18,328.91 L273.03,328.91 L281.87,328.91 L290.72,328.91 L299.56,328.91 L308.40,328.91 L317.25,328.91 L326.09,328.91 L334.93,328.91 L343.78,328.91 L352.62,328.91 L361.47,328.91 L370.31,328.91 L379.15,328.91 L388.00,328.91 L396.84,328.91 L405.69,328.91 L414.53,328.91 L423.37,328.91 L432.22,328.91 L441.06,328.91 L449.91,328.91 L458.75,328.91 L467.59,328.91 L476.44,328.91 L485.28,328.91 L494.12,328.91 L502.97,328.91 L511.81,328.91 L520.66,328.91 L529.50,328.91" stroke="#22ee22" stroke-width="2"/><path d="M48.00,413.30 L48.18,413.05 L48.30,412.70 L48.42,412.24 L48.48,411.98 L48.54,411.69 L48.60,411.39 L48.66,411.06 L48.72,410.71 L48.78,410.34 L48.84,409.95 L48.91,409.54 L48.97,409.12 L49.03,408.68 L49.09,408.22 L49.15,407.75 L49.21,407.26 L49.27,406.75 L49.33,406.23 L49.39,405.70 L49.45,405.16 L49.51,404.60 L49.57,404.02 L49.63,403.44 L49.69,402.84 L49.75,402.23 L49.81,401.61 L49.87,400.98 L49.93,400.34 L49.99,399.69 L50.05,399.02 L50.11,398.35 L50.17,397.67 L50.23,396.98 L50.29,396.28 L50.35,395.57 L50.41,394.85 L50.47,394.13 L50.53,393.40 L50.59,392.66 L50.65,391.91 L50.72,391.16 L50.78,390.40 L50.84,389.63 L50.90,388.86 L50.96,388.08 L51.02,387.30 L51.08,386.51 L51.14,385.71 L51.20,384.92 L51.26,384.11 L51.32,383.31 L51.38,382.50 L51.44,381.68 L51.50,380.86 L51.56,380.04 L51.62,379.22 L51.68,378.39 L51.74,377.56 L51.80,376.73 L51.86,375.89 L51.92,375.06 L51.98,374.22 L52.04,373.38 L52.10,372.54 L52.16,371.70 L52.22,370.85 L52.28,370.01 L52.34,369.17 L52.40,368.32 L52.47,367.48 L52.53,366.63 L52.59,365.79 L52.65,364.94 L52.71,364.10 L52.77,363.25 L52.83,362.41 L52.89,361.57 L52.95,360.73 L53.01,359.89 L53.07,359.05 L53.13,358.21 L53.19,357.38 L53.25,356.54 L53.31,355.71 L53.37,354.88 L53.43,354.06 L53.49,353.23 L53.55,352.41 L53.61,351.59 L53.67,350.78 L53.73,349.96 L53.79,349.15 L53.85,348.34 L53.91,347.54 L53.97,346.74 L54.03,345.94 L54.09,345.15 L54.15,344.36 L54.21,343.57 L54.28,342.79 L54.34,342.01 L54.40,341.23 L54.46,340.46 L54.52,339.69 L54.58,338.93 L54.64,338.17 L54.70,337.42 L54.76,336.67 L54.82,335.92 L54.88,335.18 L54.94,334.45 L55.00,333.71 L55.06,332.99 L55.12,332.27 L55.18,331.55 L55.24,330.84 L55.30,330.13 L55.36,329.43 L55.42,328.73 L55.48,328.04 L55.54,327.35 L55.60,326.67 L55.66,325.99 L55.72,325.32 L55.78,324.66 L55.84,324.00 L55.90,323.34 L55.96,322.69 L56.02,322.05 L56.09,321.41 L56.15,320.78 L56.21,320.15 L56.27,319.53 L56.33,318.91 L56.39,318.30 L56.45,317.69 L56.51,317.09 L56.57,316.50 L56.63,315.91 L56.69,315.33 L56.75,314.75 L56.81,314.18 L56.87,313.61 L56.93,313.05 L56.99,312.49 L57.05,311.94 L57.11,311.40 L57.17,310.86 L57.23,310.33 L57.29,309.80 L57.35,309.28 L57.41,308.76 L57.47,308.25 L57.53,307.75 L57.59,307.25 L57.65,306.75 L57.71,306.26 L57.77,305.78 L57.84,305.30 L57.90,304.83 L57.96,304.36 L58.02,303.90 L58.08,303.45 L58.14,303.00 L58.20,302.55 L58.26,302.11 L58.32,301.68 L58.38,301.25 L58.44,300.82 L58.50,300.40 L58.56,299.99 L58.62,299.58 L58.68,299.18 L58.74,298.78 L58.80,298.38 L58.86,298.00 L58.92,297.61 L58.98,297.23 L59.04,296.86 L59.10,296.49 L59.16,296.13 L59.22,295.77 L59.28,295.41 L59.34,295.06 L59.40,294.72 L59.46,294.38 L59.52,294.04 L59.58,293.71 L59.65,293.39 L59.71,293.06 L59.77,292.75 L59.83,292.43 L59.89,292.12 L59.95,291.82 L60.01,291.52 L60.07,291.23 L60.13,290.93 L60.19,290.65 L60.25,290.37 L60.31,290.09 L60.37,289.81 L60.43,289.54 L60.49,289.28 L60.55,289.01 L60.61,288.75 L60.67,288.50 L60.73,288.25 L60.79,288.00 L60.85,287.76 L60.97,287.28 L61.09,286.82 L61.21,286.38 L61.33,285.95 L61.46,285.53 L61.58,285.12 L61.70,284.73 L61.82,284.35 L61.94,283.99 L62.06,283.63 L62.18,283.29 L62.30,282.96 L62.42,282.64 L62.54,282.33 L62.66,282.03 L62.78,281.74 L62.90,281.47 L63.02,281.20 L63.14,280.94 L63.27,280.69 L63.39,280.45 L63.51,280.22 L63.63,280.00 L63.75,279.78 L63.87,279.58 L63.99,279.38 L64.11,279.19 L64.23,279.00 L64.41,278.74 L64.59,278.49 L64.77,278.26 L64.96,278.04 L65.14,277.83 L65.32,277.63 L65.50,277.45 L65.68,277.28 L65.86,277.12 L66.04,276.96 L66.22,276.82 L66.40,276.69 L66.58,276.56 L66.83,276.41 L67.07,276.27 L67.31,276.14 L67.55,276.02 L67.79,275.91 L68.03,275.81 L68.27,275.72 L68.52,275.64 L68.76,275.57 L69.00,275.50 L69.24,275.44 L69.54,275.37 L69.84,275.31 L70.14,275.26 L70.45,275.21 L70.75,275.17 L71.05,275.13 L71.35,275.10 L71.65,275.07 L71.95,275.05 L72.24,275.79 L72.40,277.39 L72.56,278.94 L72.72,280.45 L72.88,281.91 L73.04,283.32 L73.20,284.70 L73.36,286.03 L73.52,287.32 L73.69,288.58 L73.85,289.80 L74.01,290.98 L74.17,292.12 L74.33,293.23 L74.49,294.31 L74.65,295.35 L74.81,296.37 L74.97,297.35 L75.13,298.31 L75.30,299.23 L75.46,300.13 L75.62,301.00 L75.78,301.85 L75.94,302.67 L76.10,303.46 L76.26,304.23 L76.42,304.98 L76.58,305.71 L76.75,306.41 L76.91,307.09 L77.07,307.76 L77.23,308.40 L77.39,309.02 L77.55,309.63 L77.71,310.21 L77.87,310.78 L78.03,311.33 L78.19,311.87 L78.36,312.39 L78.52,312.89 L78.68,313.38 L78.84,313.86 L79.00,314.32 L79.16,314.76 L79.32,315.19 L79.48,315.61 L79.64,316.02 L79.80,316.42 L79.97,316.80 L80.13,317.17 L80.29,317.53 L80.45,317.88 L80.61,318.22 L80.77,318.55 L80.93,318.87 L81.09,319.18 L81.25,319.48 L81.42,319.77 L81.58,320.05 L81.74,320.33 L81.90,320.59 L82.06,320.85 L82.22,321.10 L82.38,321.35 L82.54,321.58 L82.70,321.81 L82.86,322.03 L83.03,322.25 L83.19,322.46 L83.35,322.66 L83.51,322.85 L83.67,323.05 L83.83,323.23 L83.99,323.41 L84.15,323.58 L84.31,323.75 L84.47,323.92 L84.64,324.07 L84.80,324.23 L84.96,324.38 L85.12,324.52 L85.28,324.66 L85.60,324.93 L85.92,325.18 L86.25,325.42 L86.57,325.65 L86.89,325.86 L87.21,326.05 L87.53,326.24 L87.86,326.42 L88.18,326.58 L88.50,326.74 L88.82,326.88 L89.14,327.02 L89.47,327.15 L89.79,327.27 L90.11,327.39 L90.43,327.49 L90.76,327.60 L91.08,327.69 L91.40,327.78 L91.72,327.87 L92.04,327.94 L92.37,328.02 L92.69,328.09 L93.01,328.16 L93.33,328.22 L93.65,328.28 L93.98,328.33 L94.30,328.38 L94.62,328.43 L94.94,328.48 L95.26,328.52 L95.59,328.56 L95.91,328.60 L96.23,328.64 L96.55,328.67 L96.87,328.70 L97.20,328.73 L97.52,328.76 L97.84,328.79 L98.16,328.81 L98.49,328.84 L98.81,328.86 L99.13,328.88 L99.45,328.90 L99.77,328.92 L100.10,328.94 L100.42,328.95 L100.74,328.97 L101.06,328.98 L101.38,329.00 L101.71,329.01 L102.03,329.02 L102.35,329.03 L102.67,329.04 L102.99,329.05 L103.32,329.06 L103.64,329.07 L103.96,329.08 L104.28,329.09 L104.60,329.10 L104.93,329.10 L105.25,329.11 L105.57,329.12 L105.89,329.12 L106.21,329.13 L106.54,329.13 L106.86,329.14 L107.18,329.14 L107.50,329.15 L107.83,329.15 L108.15,329.15 L108.47,329.16 L108.79,329.16 L109.11,329.16 L109.44,329.17 L109.76,329.17 L110.08,329.17 L110.40,329.17 L110.72,329.18 L111.05,329.18 L111.37,329.18 L111.69,329.18 L112.01,329.19 L112.33,329.19 L112.66,329.19 L112.98,329.19 L113.30,329.19 L113.62,329.19 L113.94,329.19 L114.27,329.20 L114.59,329.20 L114.91,329.20 L115.23,329.20 L115.55,329.20 L115.88,329.20 L116.20,329.20 L116.52,329.20 L116.84,329.20 L117.17,329.20 L117.49,329.20 L117.81,329.20 L118.13,329.21 L118.45,329.21 L118.78,329.21 L119.10,329.21 L119.42,329.21 L119.74,329.21 L120.06,329.21 L128.58,329.21 L136.93,329.21 L145.28,329.21 L153.64,329.21 L161.99,329.21 L170.34,329.21 L178.69,329.21 L187.05,329.21 L195.40,329.21 L203.75,329.21 L212.10,329.21 L220.46,329.21 L228.81,329.21 L237.16,329.21 L245.51,329.21 L253.87,329.21 L262.22,329.21 L270.57,329.21 L278.92,329.21 L287.28,329.21 L295.63,329.21 L303.98,329.21 L312.33,329.21 L320.69,329.21 L329.04,329.21 L337.39,329.21 L345.74,329.21 L354.10,329.21 L362.45,329.21 L370.80,329.21 L379.15,329.21 L387.51,329.21 L395.86,329.21 L404.21,329.21 L412.56,329.21 L420.92,329.21 L429.27,329.21 L437.62,329.21 L445.97,329.21 L454.33,329.21 L462.68,329.21 L471.03,329.21 L479.38,329.21 L487.74,329.21 L496.09,329.21 L504.44,329.21 L512.79,329.21 L521.15,329.21 L529.50,329.21" stroke="#2588d4" stroke-width="1.3"/><path d="M72.08,328.91 L87.72,328.91" stroke="#ff0000" stroke-width="2.2" stroke-dasharray="2.2 1.55" stroke-dashoffset="80.83"/><path d="M87.72,328.91 L529.5,328.91" stroke="#2f6a52" stroke-width="1.5" stroke-dasharray="2.2 1.55" stroke-dashoffset="96.48"/><line x1="528.60" y1="328.91" x2="530.80" y2="328.91" stroke="#ff0000" stroke-width="2.4"/></g>
<text x="48.00" y="430.90" class="tk" text-anchor="middle">0</text>
<text x="96.15" y="430.90" class="tk" text-anchor="middle">200</text>
<text x="144.30" y="430.90" class="tk" text-anchor="middle">400</text>
<text x="192.45" y="430.90" class="tk" text-anchor="middle">600</text>
<text x="240.60" y="430.90" class="tk" text-anchor="middle">800</text>
<text x="288.75" y="430.90" class="tk" text-anchor="middle">1000</text>
<text x="336.90" y="430.90" class="tk" text-anchor="middle">1200</text>
<text x="385.05" y="430.90" class="tk" text-anchor="middle">1400</text>
<text x="433.20" y="430.90" class="tk" text-anchor="middle">1600</text>
<text x="481.35" y="430.90" class="tk" text-anchor="middle">1800</text>
<text x="529.50" y="430.90" class="tk" text-anchor="middle">2000</text>
<text x="43.2" y="418.50" class="tk" text-anchor="end">200</text>
<text x="43.2" y="371.79" class="tk" text-anchor="end">300</text>
<text x="43.2" y="325.07" class="tk" text-anchor="end">400</text>
<text x="43.2" y="278.36" class="tk" text-anchor="end">500</text>
<text transform="translate(16.2,331.2) rotate(-90)" class="yl" text-anchor="middle">N (MW)</text>
<text x="289.1" y="450.00" class="lb" text-anchor="middle">Time (Seconds)</text>
<rect x="390.0" y="249.5" width="139.5" height="54.2" fill="#fff" stroke="#1e1e1e" stroke-width="1.1"/>
<line x1="396.8" y1="259.5" x2="435.8" y2="259.5" stroke="#ff0000" stroke-width="2.4" stroke-dasharray="2.2 1.55"/>
<line x1="396.8" y1="274.7" x2="435.8" y2="274.7" stroke="#22ee22" stroke-width="2"/>
<line x1="397.3" y1="291.5" x2="435.0" y2="291.5" stroke="#2588d4" stroke-width="1.3"/>
<text x="437.9" y="264.10" class="lg">Reference</text>
<text x="437.9" y="278.90" class="lg">FOPID based ILC</text>
<text x="437.9" y="293.90" class="lg">H<tspan dx="0.5" dy="7.1" font-size="11.8" fill="#666" stroke="none">∞</tspan><tspan dx="0.5" dy="-7.1">-LQR</tspan></text>
</g>
</svg>
</div>
</body></html>
